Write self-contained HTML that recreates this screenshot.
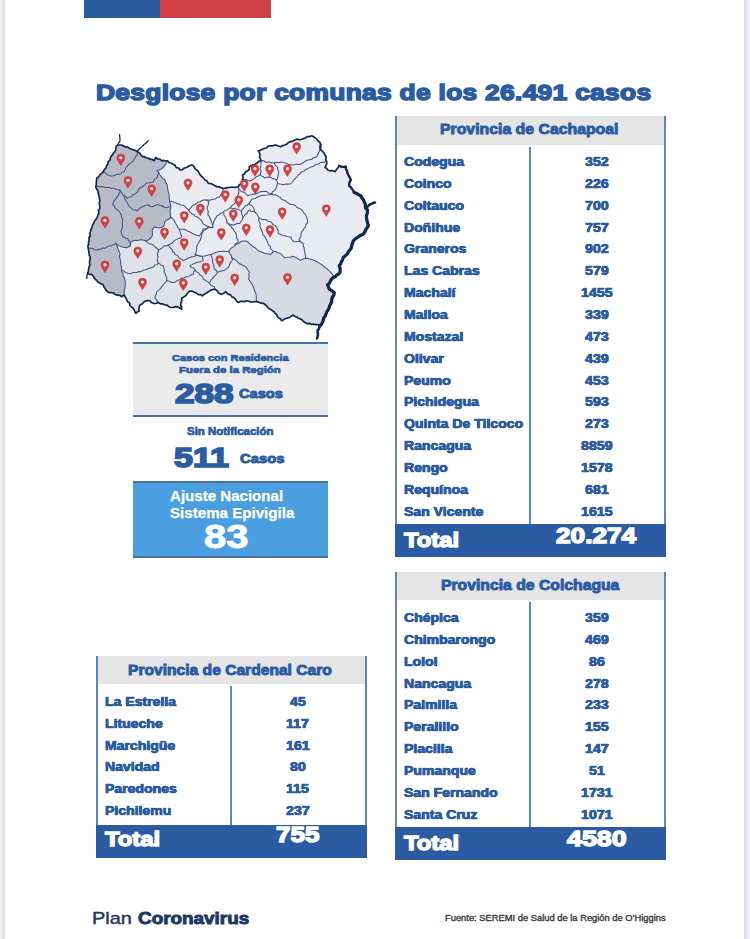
<!DOCTYPE html>
<html><head><meta charset="utf-8"><title>Desglose por comunas</title>
<style>
html,body{margin:0;padding:0;}
body{width:750px;height:939px;position:relative;overflow:hidden;background:#fff;font-family:"Liberation Sans",sans-serif;color:#2b5ca3;}
div{position:absolute;white-space:nowrap;}
.edgeL{left:0;top:0;width:6px;height:939px;background:linear-gradient(to right,#f2f2f7 0,#eeeef3 1.5px,#e4e4ea 3px,#dbdbe0 4.2px,#fff 5.4px);}
.edgeR{left:743px;top:0;width:7px;height:939px;background:linear-gradient(to right,#fff 0.5px,#dcdce2 1.4px,#e5e5eb 3px,#efeff4 5.5px,#f3f3f8 7px);}
.vl{background:#5d86ba;width:2px;}
.hl{background:#4a70a8;height:2px;}
</style></head><body>
<div class="edgeL"></div><div class="edgeR"></div>
<div style="left:84px;top:0;width:76px;height:18px;background:#2a5a9f"></div>
<div style="left:160px;top:0;width:111px;height:18px;background:#d14046"></div>
<svg width="320" height="220" viewBox="75 125 320 220" style="position:absolute;left:75px;top:125px;overflow:visible">
<defs><clipPath id="oc"><path d="M117.5 145.0 L119.5 145.0 L121.4 145.0 L123.3 145.8 L125.2 146.8 L127.5 146.9 L129.2 148.3 L131.4 149.2 L133.7 149.8 L135.8 150.8 L137.5 151.7 L139.6 152.9 L140.8 155.0 L142.5 156.7 L144.6 156.7 L146.3 157.9 L148.3 158.0 L150.0 159.2 L152.3 159.4 L154.2 160.8 L154.9 159.1 L155.8 157.5 L157.5 159.0 L160.0 159.2 L161.7 160.8 L163.6 160.4 L165.6 161.0 L167.5 160.8 L169.1 162.5 L171.3 163.2 L173.3 164.2 L175.1 165.5 L176.2 167.6 L178.8 168.0 L180.0 170.0 L182.4 169.7 L184.4 168.0 L186.7 167.5 L188.4 166.2 L190.3 165.3 L192.5 165.0 L194.1 166.5 L194.9 168.6 L196.7 170.0 L198.3 171.3 L199.1 173.3 L200.3 175.0 L201.7 176.5 L203.5 178.1 L204.9 179.9 L207.1 181.1 L208.3 183.3 L210.8 183.5 L212.9 184.6 L215.0 185.8 L216.8 186.7 L218.8 186.9 L220.7 187.4 L222.5 188.3 L225.0 188.2 L227.5 187.7 L230.0 187.5 L232.0 187.0 L234.2 187.5 L236.3 187.2 L238.3 186.7 L239.4 184.8 L241.2 183.4 L242.5 181.7 L242.5 179.5 L243.1 177.2 L242.5 175.0 L244.4 173.9 L245.6 172.0 L247.5 170.8 L249.2 169.5 L249.2 167.2 L250.8 165.8 L252.7 164.9 L254.9 164.5 L256.7 163.3 L258.5 161.6 L260.8 160.8 L260.5 158.9 L259.6 157.0 L260.0 155.0 L259.4 152.8 L258.3 150.8 L260.4 150.3 L262.3 149.2 L264.2 148.3 L266.4 148.0 L268.0 146.4 L270.0 145.8 L272.0 145.8 L273.9 145.4 L275.8 145.0 L278.3 146.0 L280.8 146.7 L282.6 145.6 L284.8 145.0 L286.8 144.1 L288.3 142.5 L290.5 141.6 L292.9 141.1 L295.0 140.0 L297.2 139.1 L299.5 139.8 L301.7 139.2 L303.5 138.6 L305.4 138.2 L306.7 136.7 L309.3 136.7 L311.7 135.8 L313.5 136.7 L315.1 137.9 L316.7 139.2 L318.2 141.0 L320.0 142.5 L321.0 144.9 L320.6 147.5 L320.8 150.0 L322.6 151.3 L324.0 153.0 L325.0 155.0 L326.2 157.1 L325.7 159.6 L326.7 161.7 L326.7 163.8 L325.9 165.7 L325.0 167.5 L326.8 168.5 L328.0 170.2 L330.0 170.8 L332.6 170.6 L335.0 171.7 L336.3 169.7 L337.9 167.8 L339.2 165.8 L341.3 166.6 L343.5 166.8 L345.8 166.7 L345.9 169.0 L347.2 171.0 L347.5 173.3 L348.7 175.5 L349.9 177.7 L350.8 180.0 L349.8 181.8 L349.2 183.7 L349.2 185.8 L350.8 187.2 L352.0 188.9 L353.2 190.6 L354.2 192.5 L356.5 193.3 L358.6 194.7 L360.8 195.8 L361.8 197.8 L363.3 199.6 L364.2 201.7 L365.3 203.8 L365.4 206.1 L365.8 208.3 L367.5 210.0 L367.5 212.1 L367.0 214.1 L366.4 216.2 L366.7 218.3 L367.0 220.8 L367.7 223.3 L368.3 225.8 L367.1 227.7 L365.9 229.6 L365.0 231.7 L363.7 233.7 L361.7 235.0 L359.7 235.8 L358.1 237.0 L356.4 238.1 L354.8 239.3 L353.3 240.8 L352.6 243.1 L351.8 245.4 L351.3 247.9 L350.0 250.0 L348.5 251.4 L347.7 253.3 L346.4 254.8 L344.9 256.2 L343.3 257.5 L342.6 259.8 L341.4 261.7 L340.7 264.0 L339.2 265.8 L340.1 268.0 L340.1 270.2 L340.0 272.5 L338.6 274.1 L336.7 275.1 L335.3 276.7 L333.3 277.5 L331.5 279.1 L330.3 281.2 L329.3 283.4 L327.5 285.0 L328.6 287.0 L329.2 289.2 L331.0 290.1 L332.6 291.3 L334.2 292.5 L334.0 294.9 L332.5 297.0 L331.8 299.2 L331.7 301.7 L330.7 303.7 L329.7 305.7 L329.1 307.9 L328.1 309.9 L326.7 311.7 L326.0 313.8 L325.3 316.0 L323.8 317.8 L323.3 320.0 L322.6 322.1 L321.6 324.1 L320.0 325.8 L317.9 324.6 L315.5 324.7 L313.3 324.2 L311.1 324.3 L309.2 323.3 L306.9 323.6 L305.0 322.5 L303.3 321.4 L302.0 319.8 L300.3 318.9 L298.3 318.3 L296.8 317.0 L294.8 316.4 L293.3 315.0 L291.2 316.3 L289.1 317.6 L286.7 318.3 L284.9 318.8 L283.3 319.9 L281.7 320.8 L280.7 319.0 L278.8 318.0 L277.4 316.6 L276.7 314.5 L275.0 313.3 L273.8 311.5 L272.0 310.4 L270.2 309.2 L268.3 308.3 L267.0 306.3 L265.2 304.7 L263.3 303.3 L261.0 303.2 L258.9 302.2 L256.7 301.7 L254.7 301.7 L252.6 302.0 L250.6 301.9 L248.7 301.3 L246.7 300.8 L244.7 301.6 L242.4 301.4 L240.3 301.4 L238.3 302.5 L236.6 301.1 L235.4 299.1 L233.8 297.6 L231.7 296.7 L230.7 294.9 L228.6 294.4 L227.0 293.3 L225.8 291.7 L224.3 292.9 L222.7 293.8 L220.8 294.2 L218.6 292.9 L217.1 290.7 L215.0 289.2 L212.6 289.5 L210.4 290.4 L208.3 291.7 L206.4 293.1 L204.3 294.2 L202.5 295.8 L200.7 294.6 L198.4 294.7 L196.7 293.3 L194.5 292.3 L192.4 291.2 L190.0 291.0 L188.4 292.2 L187.1 293.8 L186.0 295.5 L183.9 296.9 L181.7 298.3 L181.7 300.9 L180.8 303.3 L180.7 305.3 L181.6 307.2 L181.7 309.2 L179.9 308.0 L178.0 306.9 L175.8 306.7 L173.3 307.3 L170.8 307.5 L168.8 306.8 L167.2 305.2 L165.0 305.0 L162.9 303.9 L160.4 303.8 L158.3 302.5 L155.9 303.5 L153.3 303.3 L151.3 302.5 L150.0 300.8 L148.0 300.5 L146.1 300.9 L144.2 301.7 L142.4 303.8 L140.0 305.0 L139.2 306.9 L138.8 308.8 L139.2 310.8 L137.4 311.9 L135.8 313.3 L134.8 311.7 L134.2 309.9 L133.3 308.3 L131.4 307.0 L129.9 305.5 L129.5 302.9 L127.5 301.7 L126.6 299.4 L125.3 297.2 L124.2 295.0 L121.7 296.7 L119.7 295.3 L117.2 295.1 L115.0 294.2 L113.3 293.0 L111.4 292.5 L109.2 292.7 L107.5 291.7 L106.1 290.2 L105.1 288.5 L104.0 286.9 L103.3 285.0 L101.4 283.8 L99.3 283.1 L97.5 281.7 L96.0 279.8 L94.2 278.1 L93.3 275.8 L91.6 274.4 L89.3 274.3 L87.5 273.3 L88.3 271.7 L88.6 269.4 L89.1 267.0 L89.9 264.8 L89.5 262.3 L90.0 260.0 L90.3 257.6 L89.3 255.3 L89.0 253.0 L88.7 250.6 L88.3 248.3 L87.8 246.1 L88.7 244.1 L88.5 242.0 L89.2 240.0 L88.8 237.9 L90.3 236.1 L89.7 233.9 L90.4 232.0 L90.8 230.0 L92.0 227.6 L92.5 225.0 L93.8 223.0 L94.8 220.7 L96.3 218.8 L97.5 216.7 L98.1 214.7 L98.9 212.8 L98.4 210.6 L99.6 208.7 L100.0 206.7 L99.5 204.7 L99.3 202.7 L99.9 200.7 L99.4 198.7 L99.2 196.7 L98.6 194.7 L98.2 192.6 L97.7 190.5 L96.4 188.7 L95.8 186.7 L96.2 184.6 L96.3 182.5 L96.5 180.4 L96.7 178.3 L98.6 176.9 L99.9 174.9 L101.7 173.4 L103.3 171.7 L104.3 169.7 L105.9 168.0 L106.6 165.8 L107.8 164.0 L108.3 161.7 L110.1 159.9 L110.5 157.3 L112.1 155.4 L113.3 153.3 L114.9 151.5 L115.9 149.4 L116.0 146.8Z"/></clipPath>
</defs>
<path d="M117.5 145.0 L119.5 145.0 L121.4 145.0 L123.3 145.8 L125.2 146.8 L127.5 146.9 L129.2 148.3 L131.4 149.2 L133.7 149.8 L135.8 150.8 L137.5 151.7 L139.6 152.9 L140.8 155.0 L142.5 156.7 L144.6 156.7 L146.3 157.9 L148.3 158.0 L150.0 159.2 L152.3 159.4 L154.2 160.8 L154.9 159.1 L155.8 157.5 L157.5 159.0 L160.0 159.2 L161.7 160.8 L163.6 160.4 L165.6 161.0 L167.5 160.8 L169.1 162.5 L171.3 163.2 L173.3 164.2 L175.1 165.5 L176.2 167.6 L178.8 168.0 L180.0 170.0 L182.4 169.7 L184.4 168.0 L186.7 167.5 L188.4 166.2 L190.3 165.3 L192.5 165.0 L194.1 166.5 L194.9 168.6 L196.7 170.0 L198.3 171.3 L199.1 173.3 L200.3 175.0 L201.7 176.5 L203.5 178.1 L204.9 179.9 L207.1 181.1 L208.3 183.3 L210.8 183.5 L212.9 184.6 L215.0 185.8 L216.8 186.7 L218.8 186.9 L220.7 187.4 L222.5 188.3 L225.0 188.2 L227.5 187.7 L230.0 187.5 L232.0 187.0 L234.2 187.5 L236.3 187.2 L238.3 186.7 L239.4 184.8 L241.2 183.4 L242.5 181.7 L242.5 179.5 L243.1 177.2 L242.5 175.0 L244.4 173.9 L245.6 172.0 L247.5 170.8 L249.2 169.5 L249.2 167.2 L250.8 165.8 L252.7 164.9 L254.9 164.5 L256.7 163.3 L258.5 161.6 L260.8 160.8 L260.5 158.9 L259.6 157.0 L260.0 155.0 L259.4 152.8 L258.3 150.8 L260.4 150.3 L262.3 149.2 L264.2 148.3 L266.4 148.0 L268.0 146.4 L270.0 145.8 L272.0 145.8 L273.9 145.4 L275.8 145.0 L278.3 146.0 L280.8 146.7 L282.6 145.6 L284.8 145.0 L286.8 144.1 L288.3 142.5 L290.5 141.6 L292.9 141.1 L295.0 140.0 L297.2 139.1 L299.5 139.8 L301.7 139.2 L303.5 138.6 L305.4 138.2 L306.7 136.7 L309.3 136.7 L311.7 135.8 L313.5 136.7 L315.1 137.9 L316.7 139.2 L318.2 141.0 L320.0 142.5 L321.0 144.9 L320.6 147.5 L320.8 150.0 L322.6 151.3 L324.0 153.0 L325.0 155.0 L326.2 157.1 L325.7 159.6 L326.7 161.7 L326.7 163.8 L325.9 165.7 L325.0 167.5 L326.8 168.5 L328.0 170.2 L330.0 170.8 L332.6 170.6 L335.0 171.7 L336.3 169.7 L337.9 167.8 L339.2 165.8 L341.3 166.6 L343.5 166.8 L345.8 166.7 L345.9 169.0 L347.2 171.0 L347.5 173.3 L348.7 175.5 L349.9 177.7 L350.8 180.0 L349.8 181.8 L349.2 183.7 L349.2 185.8 L350.8 187.2 L352.0 188.9 L353.2 190.6 L354.2 192.5 L356.5 193.3 L358.6 194.7 L360.8 195.8 L361.8 197.8 L363.3 199.6 L364.2 201.7 L365.3 203.8 L365.4 206.1 L365.8 208.3 L367.5 210.0 L367.5 212.1 L367.0 214.1 L366.4 216.2 L366.7 218.3 L367.0 220.8 L367.7 223.3 L368.3 225.8 L367.1 227.7 L365.9 229.6 L365.0 231.7 L363.7 233.7 L361.7 235.0 L359.7 235.8 L358.1 237.0 L356.4 238.1 L354.8 239.3 L353.3 240.8 L352.6 243.1 L351.8 245.4 L351.3 247.9 L350.0 250.0 L348.5 251.4 L347.7 253.3 L346.4 254.8 L344.9 256.2 L343.3 257.5 L342.6 259.8 L341.4 261.7 L340.7 264.0 L339.2 265.8 L340.1 268.0 L340.1 270.2 L340.0 272.5 L338.6 274.1 L336.7 275.1 L335.3 276.7 L333.3 277.5 L331.5 279.1 L330.3 281.2 L329.3 283.4 L327.5 285.0 L328.6 287.0 L329.2 289.2 L331.0 290.1 L332.6 291.3 L334.2 292.5 L334.0 294.9 L332.5 297.0 L331.8 299.2 L331.7 301.7 L330.7 303.7 L329.7 305.7 L329.1 307.9 L328.1 309.9 L326.7 311.7 L326.0 313.8 L325.3 316.0 L323.8 317.8 L323.3 320.0 L322.6 322.1 L321.6 324.1 L320.0 325.8 L317.9 324.6 L315.5 324.7 L313.3 324.2 L311.1 324.3 L309.2 323.3 L306.9 323.6 L305.0 322.5 L303.3 321.4 L302.0 319.8 L300.3 318.9 L298.3 318.3 L296.8 317.0 L294.8 316.4 L293.3 315.0 L291.2 316.3 L289.1 317.6 L286.7 318.3 L284.9 318.8 L283.3 319.9 L281.7 320.8 L280.7 319.0 L278.8 318.0 L277.4 316.6 L276.7 314.5 L275.0 313.3 L273.8 311.5 L272.0 310.4 L270.2 309.2 L268.3 308.3 L267.0 306.3 L265.2 304.7 L263.3 303.3 L261.0 303.2 L258.9 302.2 L256.7 301.7 L254.7 301.7 L252.6 302.0 L250.6 301.9 L248.7 301.3 L246.7 300.8 L244.7 301.6 L242.4 301.4 L240.3 301.4 L238.3 302.5 L236.6 301.1 L235.4 299.1 L233.8 297.6 L231.7 296.7 L230.7 294.9 L228.6 294.4 L227.0 293.3 L225.8 291.7 L224.3 292.9 L222.7 293.8 L220.8 294.2 L218.6 292.9 L217.1 290.7 L215.0 289.2 L212.6 289.5 L210.4 290.4 L208.3 291.7 L206.4 293.1 L204.3 294.2 L202.5 295.8 L200.7 294.6 L198.4 294.7 L196.7 293.3 L194.5 292.3 L192.4 291.2 L190.0 291.0 L188.4 292.2 L187.1 293.8 L186.0 295.5 L183.9 296.9 L181.7 298.3 L181.7 300.9 L180.8 303.3 L180.7 305.3 L181.6 307.2 L181.7 309.2 L179.9 308.0 L178.0 306.9 L175.8 306.7 L173.3 307.3 L170.8 307.5 L168.8 306.8 L167.2 305.2 L165.0 305.0 L162.9 303.9 L160.4 303.8 L158.3 302.5 L155.9 303.5 L153.3 303.3 L151.3 302.5 L150.0 300.8 L148.0 300.5 L146.1 300.9 L144.2 301.7 L142.4 303.8 L140.0 305.0 L139.2 306.9 L138.8 308.8 L139.2 310.8 L137.4 311.9 L135.8 313.3 L134.8 311.7 L134.2 309.9 L133.3 308.3 L131.4 307.0 L129.9 305.5 L129.5 302.9 L127.5 301.7 L126.6 299.4 L125.3 297.2 L124.2 295.0 L121.7 296.7 L119.7 295.3 L117.2 295.1 L115.0 294.2 L113.3 293.0 L111.4 292.5 L109.2 292.7 L107.5 291.7 L106.1 290.2 L105.1 288.5 L104.0 286.9 L103.3 285.0 L101.4 283.8 L99.3 283.1 L97.5 281.7 L96.0 279.8 L94.2 278.1 L93.3 275.8 L91.6 274.4 L89.3 274.3 L87.5 273.3 L88.3 271.7 L88.6 269.4 L89.1 267.0 L89.9 264.8 L89.5 262.3 L90.0 260.0 L90.3 257.6 L89.3 255.3 L89.0 253.0 L88.7 250.6 L88.3 248.3 L87.8 246.1 L88.7 244.1 L88.5 242.0 L89.2 240.0 L88.8 237.9 L90.3 236.1 L89.7 233.9 L90.4 232.0 L90.8 230.0 L92.0 227.6 L92.5 225.0 L93.8 223.0 L94.8 220.7 L96.3 218.8 L97.5 216.7 L98.1 214.7 L98.9 212.8 L98.4 210.6 L99.6 208.7 L100.0 206.7 L99.5 204.7 L99.3 202.7 L99.9 200.7 L99.4 198.7 L99.2 196.7 L98.6 194.7 L98.2 192.6 L97.7 190.5 L96.4 188.7 L95.8 186.7 L96.2 184.6 L96.3 182.5 L96.5 180.4 L96.7 178.3 L98.6 176.9 L99.9 174.9 L101.7 173.4 L103.3 171.7 L104.3 169.7 L105.9 168.0 L106.6 165.8 L107.8 164.0 L108.3 161.7 L110.1 159.9 L110.5 157.3 L112.1 155.4 L113.3 153.3 L114.9 151.5 L115.9 149.4 L116.0 146.8Z" fill="#e9ebf0"/>
<g clip-path="url(#oc)">
<path d="M170.4 218.0 L171.5 217.3 L174.0 220.0 L175.2 222.7 L176.7 225.3 L177.7 227.5 L179.3 229.3 L182.0 229.2 L184.7 229.3 L199.3 236.0 L205.2 228.8 L203.0 229.0 L202.8 231.7 L201.7 234.3 L201.4 237.0 L200.5 239.2 L199.6 241.3 L198.3 243.3 L196.6 246.6 L196.7 250.0 L196.2 252.4 L195.0 254.6 L195.0 254.6 L197.6 255.4 L200.3 256.0 L203.0 256.2 L205.7 255.8 L208.3 255.0 L211.0 254.6 L213.6 253.3 L216.3 252.3 L219.0 251.4 L221.4 251.4 L223.8 251.1 L226.2 251.4 L228.6 251.4 L228.6 251.4 L230.0 249.6 L231.6 248.0 L233.7 246.9 L235.0 245.0 L237.0 244.1 L239.1 243.2 L240.8 241.6 L243.0 241.0 L245.5 241.0 L247.8 241.8 L249.3 243.5 L251.1 244.9 L252.6 246.6 L255.2 247.8 L257.4 249.8 L259.3 251.3 L261.6 252.1 L263.8 253.0 L265.9 253.8 L268.2 253.7 L270.2 254.6 L272.1 253.3 L273.4 251.4 L275.6 251.5 L277.6 252.8 L279.8 253.0 L281.4 254.6 L283.1 256.1 L284.6 257.8 L287.3 257.3 L290.0 257.2 L292.6 256.2 L294.7 257.0 L296.8 257.9 L298.6 259.2 L300.6 260.2 L303.1 259.0 L305.8 258.3 L308.2 258.5 L310.5 259.2 L312.8 259.7 L315.0 260.8 L317.2 261.8 L319.2 263.1 L321.3 264.4 L323.3 265.8 L324.8 267.5 L326.8 268.6 L328.3 270.2 L330.0 271.7 L331.9 273.5 L333.3 275.8 L400.0 276.0 L400.0 345.0 L100.0 345.0 L100.0 218.0Z" fill="#dfe2e9"/>
<path d="M256.6 301.7 L256.3 298.8 L256.2 295.9 L255.8 293.0 L254.4 290.5 L253.7 287.7 L252.6 285.0 L251.3 282.8 L249.7 280.9 L248.6 278.6 L249.3 276.5 L248.7 274.3 L249.4 272.2 L247.8 269.8 L246.2 267.4 L244.4 265.9 L242.2 265.0 L240.1 264.0 L238.2 262.6 L236.4 260.6 L234.1 259.2 L231.8 257.8 L231.2 255.5 L229.8 253.5 L228.6 251.4 L230.0 249.6 L231.6 248.0 L233.7 246.9 L235.0 245.0 L237.0 244.1 L239.1 243.2 L240.8 241.6 L243.0 241.0 L245.5 241.0 L247.8 241.8 L249.3 243.5 L251.1 244.9 L252.6 246.6 L255.2 247.8 L257.4 249.8 L259.3 251.3 L261.6 252.1 L263.8 253.0 L265.9 253.8 L268.2 253.7 L270.2 254.6 L272.1 253.3 L273.4 251.4 L275.6 251.5 L277.6 252.8 L279.8 253.0 L281.4 254.6 L283.1 256.1 L284.6 257.8 L287.3 257.3 L290.0 257.2 L292.6 256.2 L294.7 257.0 L296.8 257.9 L298.6 259.2 L300.6 260.2 L303.1 259.0 L305.8 258.3 L308.2 258.5 L310.5 259.2 L312.8 259.7 L315.0 260.8 L317.2 261.8 L319.2 263.1 L321.3 264.4 L323.3 265.8 L324.8 267.5 L326.8 268.6 L328.3 270.2 L330.0 271.7 L331.9 273.5 L333.3 275.8 L400.0 276.0 L400.0 345.0 L256.0 345.0Z" fill="#d7dae2"/>
<path d="M167.5 160.8 L166.4 163.2 L164.7 165.3 L163.3 167.5 L161.3 169.0 L159.0 169.9 L156.7 170.8 L158.7 172.6 L160.0 175.0 L161.5 176.8 L163.1 178.5 L165.0 180.0 L165.5 182.4 L167.0 184.3 L167.5 186.7 L167.7 189.2 L168.2 191.7 L169.1 194.1 L169.2 196.7 L169.4 199.5 L169.8 202.3 L170.8 205.0 L170.9 207.8 L170.1 210.5 L170.4 213.3 L170.5 215.7 L170.4 218.0 L168.6 219.2 L166.5 220.1 L165.0 221.7 L164.2 223.7 L164.0 225.9 L162.0 227.3 L159.7 228.1 L157.0 227.6 L154.4 227.0 L153.3 228.6 L152.3 230.2 L152.5 232.8 L152.3 235.5 L151.5 237.3 L150.1 238.7 L148.1 240.0 L145.9 240.9 L143.2 240.1 L140.5 239.8 L137.9 240.5 L135.2 240.3 L133.0 241.0 L130.9 241.9 L130.5 244.1 L129.9 246.2 L126.7 247.8 L123.5 247.3 L120.6 246.6 L118.1 245.1 L115.8 243.3 L116.8 245.3 L117.4 247.5 L118.3 249.6 L119.2 251.7 L120.0 254.1 L119.5 256.8 L120.1 259.2 L120.8 261.7 L120.6 264.2 L121.6 266.7 L121.7 269.2 L121.7 271.7 L123.0 273.6 L123.1 276.0 L124.4 277.8 L125.0 280.0 L125.4 282.8 L125.1 285.5 L125.0 288.3 L124.3 290.5 L124.1 292.7 L124.2 295.0 L124.0 345.0 L70.0 345.0 L70.0 125.0 L167.5 125.0Z" fill="#b8bac6"/>
</g>
<g fill="none" stroke="#43567f" stroke-width="1.05" stroke-linejoin="round" stroke-linecap="round">
<path d="M103.3 171.7 L105.2 172.7 L106.7 174.2 L108.7 175.4 L110.9 175.9 L113.3 175.8 L115.0 175.3 L116.5 174.4 L118.3 174.2 L120.5 174.0 L122.1 172.3 L124.2 171.7 L125.1 169.9 L125.7 168.0 L127.1 166.6 L128.3 165.0 L129.9 163.6 L131.6 162.2 L133.3 160.8 L134.0 159.1 L135.4 157.9 L135.9 156.0 L137.5 155.0 L137.2 153.3 L137.5 151.7"/>
<path d="M95.8 186.7 L97.7 186.3 L99.5 186.9 L101.4 186.5 L103.2 186.7 L105.0 187.5 L107.1 187.4 L109.2 187.5 L111.2 188.2 L113.3 188.3 L115.5 188.9 L117.7 189.8 L120.0 190.0 L120.9 191.6 L121.9 193.1 L122.7 194.7 L124.2 195.8 L125.9 196.9 L127.5 198.3 L129.3 197.1 L131.6 196.8 L132.9 194.8 L135.0 194.2 L136.7 192.7 L138.1 191.0 L138.9 188.8 L140.8 187.5 L142.8 186.5 L144.5 185.1 L145.8 183.3 L147.7 183.1 L149.6 182.8 L151.5 182.5 L153.3 181.7 L154.3 179.7 L156.1 178.4 L157.5 176.7 L157.8 175.0 L158.5 173.4 L158.3 171.7"/>
<path d="M124.2 195.8 L124.5 197.1 L124.9 198.9 L125.7 200.5 L126.8 202.0 L127.7 203.5 L128.7 205.6 L130.4 207.3 L132.0 208.9 L133.7 209.9 L135.7 209.9 L137.3 211.0 L138.7 209.1 L140.6 207.7 L142.7 206.7 L144.7 205.7 L146.9 205.1 L148.9 205.1 L150.4 206.6 L152.3 206.7 L154.1 206.1 L155.9 205.5 L157.6 204.6 L159.7 205.3 L161.9 205.7 L163.9 207.0 L166.1 207.8 L168.3 207.2 L170.6 206.7"/>
<path d="M120.0 190.0 L120.2 192.0 L118.6 193.6 L118.5 195.5 L117.1 196.8 L116.2 198.4 L115.0 199.9 L113.9 201.4 L113.1 202.9 L112.8 204.6 L114.4 205.7 L114.7 207.7 L116.0 208.9 L117.7 210.1 L119.3 211.3 L120.3 213.1 L121.3 214.8 L121.4 216.8 L122.4 218.5 L122.9 220.3 L122.3 222.2 L122.1 224.1 L122.9 225.9 L122.2 227.7 L121.7 229.6 L120.8 231.3 L121.5 233.1 L122.0 234.9 L122.9 236.6 L124.4 237.6 L126.0 238.2 L127.7 238.7 L128.6 240.4 L129.9 241.9 L130.5 244.1 L129.9 246.2"/>
<path d="M89.2 248.3 L91.2 248.2 L93.0 248.8 L94.7 249.9 L96.7 250.0 L98.7 249.3 L100.9 249.2 L102.8 248.1 L105.0 248.3 L106.7 246.9 L108.7 246.3 L110.8 245.8 L112.6 245.2 L114.3 244.4 L115.8 243.3"/>
<path d="M145.9 240.9 L148.0 243.0 L149.7 243.9 L151.6 244.1 L153.3 245.0 L154.5 246.3 L155.8 247.5 L157.1 248.7 L158.3 250.0 L158.6 251.8 L157.2 253.2 L157.5 255.0 L158.1 257.0 L157.2 259.2 L157.5 261.3 L158.3 263.3"/>
<path d="M121.7 270.8 L123.6 270.8 L125.0 272.0 L126.5 273.1 L128.3 273.3 L130.5 273.8 L132.5 272.8 L134.6 272.4 L136.7 272.5 L138.7 271.5 L141.0 271.8 L142.8 270.2 L145.0 270.0 L146.7 269.5 L148.2 268.3 L150.0 268.2 L151.7 267.5 L153.7 267.0 L154.7 265.0 L156.9 264.7 L158.3 263.3"/>
<path d="M158.3 263.3 L160.0 264.1 L161.4 265.5 L163.3 265.8 L163.4 267.7 L164.5 269.5 L164.0 271.5 L165.0 273.3 L165.6 275.5 L166.8 277.6 L166.7 280.0 L166.0 282.1 L164.2 283.4 L163.0 285.1 L161.7 286.7 L160.6 288.1 L159.6 289.6 L158.1 290.6 L156.7 291.7 L156.4 294.0 L155.1 296.0 L155.0 298.3 L156.8 300.0 L157.5 302.5"/>
<path d="M158.3 250.0 L160.2 249.2 L161.9 248.2 L163.3 246.7 L164.8 245.6 L166.8 246.1 L168.3 245.0 L170.1 244.1 L171.9 243.3 L173.3 241.7 L174.8 240.4 L176.6 239.5 L178.3 238.6 L180.4 238.3 L181.7 236.7 L181.3 235.0 L180.4 233.4 L180.0 231.7 L179.3 229.3"/>
<path d="M168.3 245.0 L169.4 246.6 L170.7 248.2 L172.0 249.7 L172.5 251.7 L174.3 252.5 L175.1 254.6 L177.0 255.2 L178.3 256.7 L179.6 258.5 L181.9 259.2 L183.3 260.8 L184.8 259.7 L186.7 259.2 L188.1 257.9 L190.0 257.5 L191.6 256.7 L193.6 256.8 L195.2 256.1 L196.7 255.0"/>
<path d="M166.7 280.0 L168.2 281.0 L169.9 281.4 L171.4 282.4 L173.3 282.5 L175.2 282.2 L176.7 280.9 L178.3 280.0 L180.1 279.6 L181.4 278.1 L183.5 278.3 L185.0 277.3 L186.7 276.7 L188.5 276.4 L190.1 275.6 L191.5 274.5 L193.3 274.2 L193.6 271.9 L195.0 270.0 L193.7 268.1 L191.3 267.6 L190.0 265.8 L191.6 264.9 L193.2 263.9 L195.0 263.3 L197.0 262.2 L199.3 262.0 L201.5 261.4 L203.3 260.0 L202.6 258.4 L202.5 256.7 L200.6 255.9 L198.6 255.8 L196.7 255.0"/>
<path d="M195.0 270.0 L196.2 271.3 L197.6 272.4 L199.1 273.4 L200.0 275.0 L201.6 275.9 L202.8 277.2 L203.3 279.2 L205.0 280.0 L206.5 281.1 L208.2 282.0 L209.4 283.4 L210.7 284.9 L212.2 286.1 L214.2 286.6 L215.0 289.2"/>
<path d="M211.0 254.6 L211.5 256.6 L212.3 258.5 L212.6 260.5 L212.6 262.6 L213.7 264.6 L213.9 266.8 L214.2 269.0 L216.2 270.2 L217.4 272.2 L216.5 274.0 L215.3 275.6 L213.7 276.9 L212.6 278.6 L211.1 279.9 L210.2 281.6 L209.4 283.4"/>
<path d="M217.4 272.2 L219.5 271.5 L221.6 271.0 L223.8 270.6 L225.4 269.6 L226.9 268.3 L228.6 267.4 L229.2 265.7 L229.7 263.9 L230.7 262.5 L231.8 261.0 L232.5 259.4 L231.8 257.8"/>
<path d="M170.0 201.3 L172.4 201.5 L174.5 202.6 L176.7 203.3 L178.8 204.1 L181.0 205.1 L183.3 205.3 L184.9 206.4 L186.2 207.8 L187.6 209.1 L188.7 210.7 L189.9 208.8 L191.3 207.1 L192.7 205.3 L194.8 204.7 L196.5 203.5 L198.0 202.0 L200.1 202.0 L201.8 200.4 L203.8 199.9 L206.0 200.0 L208.0 200.1 L210.0 200.2 L212.0 199.4 L214.0 199.3 L215.8 198.7 L217.3 197.3 L219.3 197.3 L220.5 195.2 L222.0 193.3 L223.1 191.1 L223.0 188.7"/>
<path d="M188.7 210.7 L190.2 212.4 L191.9 213.8 L194.0 214.7 L195.4 216.6 L197.7 217.1 L199.3 218.7 L201.1 220.1 L202.4 221.9 L203.3 224.0 L205.1 224.9 L206.8 226.0 L208.7 226.7 L210.6 227.6 L212.7 227.3 L212.5 225.4 L211.9 223.6 L211.6 221.7 L210.7 220.0 L210.0 218.3 L209.4 216.6 L208.1 215.2 L208.0 213.3 L208.2 211.1 L207.2 208.9 L207.3 206.7 L208.3 205.0 L208.4 203.2 L208.7 201.3 L206.0 200.0"/>
<path d="M212.7 227.3 L212.9 225.2 L213.1 223.2 L214.0 221.3 L214.6 219.4 L216.0 217.9 L216.7 216.0 L218.8 215.1 L220.4 213.3 L222.7 212.7 L224.2 211.0 L226.4 210.4 L228.2 209.3 L230.0 208.0 L231.2 206.6 L232.4 205.1 L234.1 204.1 L235.3 202.7 L235.3 200.5 L236.4 198.6 L237.3 196.7 L238.0 194.7 L238.9 192.8 L238.7 190.7 L238.7 188.7 L238.3 186.7"/>
<path d="M223.8 213.0 L223.9 215.1 L225.1 216.8 L226.1 218.6 L226.7 220.6 L227.0 222.6 L228.9 224.0 L231.2 224.5 L233.4 225.0 L235.5 224.2 L237.5 223.3 L239.8 223.4 L240.9 221.5 L242.1 219.8 L243.0 217.8 L242.4 215.7 L241.6 213.6 L241.4 211.4 L239.9 210.4 L238.5 209.3 L236.4 209.3 L235.0 208.2 L233.3 208.8 L231.7 208.3 L230.0 208.0"/>
<path d="M227.0 222.6 L228.4 223.8 L229.4 225.3 L231.1 226.1 L231.8 228.0 L233.4 229.0 L233.9 230.7 L235.0 232.2 L236.2 233.6 L236.6 235.4 L236.5 237.7 L237.9 239.6 L238.2 241.8 L236.3 243.1 L235.0 245.0"/>
<path d="M243.0 217.8 L244.0 216.0 L245.3 214.4 L247.1 213.2 L247.9 211.2 L249.4 209.8 L250.7 211.2 L252.6 211.4 L254.4 211.8 L255.8 213.0 L257.2 214.4 L258.0 216.1 L259.0 217.8 L260.5 218.6 L262.0 219.5 L263.8 219.4 L266.0 219.7 L267.9 220.9 L269.9 221.4 L271.8 222.6 L272.9 224.7 L275.4 225.4 L276.6 227.4 L277.7 229.4 L278.3 231.5 L278.2 233.8 L280.4 234.2 L282.3 235.4 L284.6 235.4 L286.6 236.5 L288.8 236.8 L291.0 237.0 L291.5 239.0 L292.6 240.5 L294.2 241.8 L296.3 241.6 L298.5 241.4 L300.6 241.8"/>
<path d="M259.0 217.8 L258.6 219.9 L259.2 221.9 L260.4 223.9 L260.0 226.0 L260.4 227.9 L261.4 229.5 L262.0 231.3 L262.6 233.1 L263.0 235.0 L264.4 236.4 L265.6 237.8 L266.3 239.6 L267.2 241.3 L268.0 243.0 L268.4 245.0 L270.4 246.1 L270.3 248.4 L271.8 249.8 L273.4 251.4"/>
<path d="M271.7 194.0 L269.5 194.8 L267.3 195.1 L265.0 195.3 L262.7 195.3 L260.4 195.8 L258.3 196.7 L256.7 197.4 L255.2 198.6 L253.4 198.7 L251.7 199.3 L250.5 201.4 L249.0 203.3 L249.9 205.0 L252.0 205.7 L253.0 207.3 L254.1 209.1 L254.4 211.3 L255.8 213.0"/>
<path d="M249.0 203.3 L247.4 205.2 L245.0 206.0 L243.9 207.9 L242.2 209.4 L241.4 211.4"/>
<path d="M271.7 194.0 L273.2 195.0 L275.2 194.8 L276.9 195.4 L278.3 196.7 L280.4 197.3 L281.6 199.4 L283.7 200.0 L285.6 200.8 L287.1 202.5 L289.0 203.3 L290.5 204.5 L292.4 204.4 L294.1 205.0 L295.7 206.0 L297.1 207.6 L299.1 208.3 L301.0 209.3 L302.6 210.7 L303.4 212.6 L305.0 214.0 L306.1 216.1 L307.0 218.2 L307.5 220.5 L307.5 222.9 L305.8 224.7 L305.5 227.0 L303.9 228.4 L303.1 230.4 L301.6 231.9 L301.0 234.0 L301.0 236.2 L300.0 238.1 L299.0 240.0 L300.5 241.1 L301.5 242.7 L303.3 243.3 L303.0 245.6 L304.1 247.7 L304.2 250.0 L304.9 252.0 L305.1 254.1 L305.4 256.2 L305.8 258.3"/>
<path d="M242.3 178.7 L244.1 179.8 L246.3 179.4 L248.0 180.8 L250.0 181.0 L251.7 180.3 L253.3 179.4 L254.7 178.3 L256.0 177.0 L258.2 176.0 L260.3 174.7"/>
<path d="M260.8 160.8 L261.0 162.8 L260.9 164.8 L260.8 166.8 L260.1 168.7 L261.0 170.7 L260.8 172.7 L260.3 174.7 L261.4 176.1 L263.2 176.6 L264.3 178.0 L266.2 177.2 L268.2 176.9 L270.3 177.3 L272.3 178.3 L274.4 178.9 L276.3 180.0 L277.6 178.2 L278.1 176.2 L278.3 174.0 L278.8 171.7 L277.6 169.6 L277.7 167.3 L276.1 166.1 L275.0 164.6 L274.3 162.7"/>
<path d="M276.3 180.0 L277.0 181.6 L277.7 183.3 L279.6 184.1 L281.7 184.2 L283.7 184.7 L285.9 184.1 L288.1 184.1 L290.3 184.0 L291.8 182.5 L293.2 181.0 L294.3 179.3 L295.9 178.0 L297.3 176.6 L298.3 174.7 L300.1 173.7 L301.3 171.9 L303.6 171.6 L305.0 170.0 L306.5 168.9 L308.4 168.4 L309.9 167.4 L311.7 166.7 L313.5 166.3 L314.8 165.0 L316.5 164.3 L318.3 164.0 L320.1 162.9 L322.0 162.0 L324.3 162.3 L326.0 161.0"/>
<path d="M277.7 183.3 L276.9 185.1 L276.6 187.0 L275.7 188.7 L274.5 190.6 L272.5 191.8 L271.7 194.0 L270.0 193.3 L268.2 193.0 L266.8 191.6 L265.0 191.3 L262.7 191.6 L260.4 191.6 L258.3 192.7 L256.3 193.9 L253.9 194.1 L251.7 194.7 L249.6 194.9 L247.7 196.0 L246.4 194.3 L244.9 192.9 L243.0 192.0 L241.2 191.4 L240.0 190.0 L238.7 188.7"/>
<path d="M260.8 160.8 L262.6 160.6 L264.3 161.0 L265.9 162.4 L267.7 162.0 L269.9 162.3 L272.0 163.1 L274.3 162.7 L276.5 162.3 L278.8 162.7 L281.0 162.0 L283.3 162.6 L285.6 163.0 L287.7 164.0 L289.9 164.6 L292.0 165.1 L294.3 164.7 L296.5 163.9 L298.8 164.4 L301.0 164.0 L303.1 162.8 L305.0 161.3 L307.1 160.3 L309.4 159.8 L311.7 159.3 L313.2 158.0 L315.1 157.2 L317.0 156.7 L317.4 154.9 L318.5 153.4 L319.2 151.8 L319.7 150.0 L319.5 148.0 L319.4 145.9 L320.3 144.0"/>
<path d="M167.5 160.8 L166.4 163.2 L164.7 165.3 L163.3 167.5 L161.3 169.0 L159.0 169.9 L156.7 170.8 L158.7 172.6 L160.0 175.0 L161.5 176.8 L163.1 178.5 L165.0 180.0 L165.5 182.4 L167.0 184.3 L167.5 186.7 L167.7 189.2 L168.2 191.7 L169.1 194.1 L169.2 196.7 L169.4 199.5 L169.8 202.3 L170.8 205.0 L170.9 207.8 L170.1 210.5 L170.4 213.3 L170.5 215.7 L170.4 218.0 L168.6 219.2 L166.5 220.1 L165.0 221.7 L164.2 223.7 L164.0 225.9 L162.0 227.3 L159.7 228.1 L157.0 227.6 L154.4 227.0 L153.3 228.6 L152.3 230.2 L152.5 232.8 L152.3 235.5 L151.5 237.3 L150.1 238.7 L148.1 240.0 L145.9 240.9 L143.2 240.1 L140.5 239.8 L137.9 240.5 L135.2 240.3 L133.0 241.0 L130.9 241.9 L130.5 244.1 L129.9 246.2 L126.7 247.8 L123.5 247.3 L120.6 246.6 L118.1 245.1 L115.8 243.3 L116.8 245.3 L117.4 247.5 L118.3 249.6 L119.2 251.7 L120.0 254.1 L119.5 256.8 L120.1 259.2 L120.8 261.7 L120.6 264.2 L121.6 266.7 L121.7 269.2 L121.7 271.7 L123.0 273.6 L123.1 276.0 L124.4 277.8 L125.0 280.0 L125.4 282.8 L125.1 285.5 L125.0 288.3 L124.3 290.5 L124.1 292.7 L124.2 295.0"/>
<path d="M228.6 251.4 L230.0 249.6 L231.6 248.0 L233.7 246.9 L235.0 245.0 L237.0 244.1 L239.1 243.2 L240.8 241.6 L243.0 241.0 L245.5 241.0 L247.8 241.8 L249.3 243.5 L251.1 244.9 L252.6 246.6 L255.2 247.8 L257.4 249.8 L259.3 251.3 L261.6 252.1 L263.8 253.0 L265.9 253.8 L268.2 253.7 L270.2 254.6 L272.1 253.3 L273.4 251.4 L275.6 251.5 L277.6 252.8 L279.8 253.0 L281.4 254.6 L283.1 256.1 L284.6 257.8 L287.3 257.3 L290.0 257.2 L292.6 256.2 L294.7 257.0 L296.8 257.9 L298.6 259.2 L300.6 260.2 L303.1 259.0 L305.8 258.3 L308.2 258.5 L310.5 259.2 L312.8 259.7 L315.0 260.8 L317.2 261.8 L319.2 263.1 L321.3 264.4 L323.3 265.8 L324.8 267.5 L326.8 268.6 L328.3 270.2 L330.0 271.7 L331.9 273.5 L333.3 275.8"/>
<path d="M228.6 251.4 L229.8 253.5 L231.2 255.5 L231.8 257.8 L234.1 259.2 L236.4 260.6 L238.2 262.6 L240.1 264.0 L242.2 265.0 L244.4 265.9 L246.2 267.4 L247.8 269.8 L249.4 272.2 L248.7 274.3 L249.3 276.5 L248.6 278.6 L249.7 280.9 L251.3 282.8 L252.6 285.0 L253.7 287.7 L254.4 290.5 L255.8 293.0 L256.2 295.9 L256.3 298.8 L256.6 301.7"/>
<path d="M170.4 218.0 L171.5 217.3 L174.0 220.0 L175.2 222.7 L176.7 225.3 L177.7 227.5 L179.3 229.3 L182.0 229.2 L184.7 229.3 L187.2 230.9 L190.0 232.0 L192.6 233.5 L195.3 234.7 L197.3 235.5 L199.3 236.0 L200.6 234.0 L202.0 232.0 L203.9 230.5 L206.0 229.3 L208.7 226.7"/>
<path d="M212.7 227.3 L209.4 227.4 L207.4 228.3 L205.2 228.8 L203.0 229.0 L202.8 231.7 L201.7 234.3 L201.4 237.0 L200.5 239.2 L199.6 241.3 L198.3 243.3 L196.6 246.6 L196.7 250.0 L196.2 252.4 L195.0 254.6"/>
<path d="M195.0 254.6 L197.6 255.4 L200.3 256.0 L203.0 256.2 L205.7 255.8 L208.3 255.0 L211.0 254.6 L213.6 253.3 L216.3 252.3 L219.0 251.4 L221.4 251.4 L223.8 251.1 L226.2 251.4 L228.6 251.4"/>
</g>
<g fill="none" stroke="#14284f" stroke-linejoin="round" stroke-linecap="round">
<path d="M117.5 145.0 L119.5 145.0 L121.4 145.0 L123.3 145.8 L125.2 146.8 L127.5 146.9 L129.2 148.3 L131.4 149.2 L133.7 149.8 L135.8 150.8 L137.5 151.7 L139.6 152.9 L140.8 155.0 L142.5 156.7 L144.6 156.7 L146.3 157.9 L148.3 158.0 L150.0 159.2 L152.3 159.4 L154.2 160.8 L154.9 159.1 L155.8 157.5 L157.5 159.0 L160.0 159.2 L161.7 160.8 L163.6 160.4 L165.6 161.0 L167.5 160.8 L169.1 162.5 L171.3 163.2 L173.3 164.2 L175.1 165.5 L176.2 167.6 L178.8 168.0 L180.0 170.0 L182.4 169.7 L184.4 168.0 L186.7 167.5 L188.4 166.2 L190.3 165.3 L192.5 165.0 L194.1 166.5 L194.9 168.6 L196.7 170.0 L198.3 171.3 L199.1 173.3 L200.3 175.0 L201.7 176.5 L203.5 178.1 L204.9 179.9 L207.1 181.1 L208.3 183.3 L210.8 183.5 L212.9 184.6 L215.0 185.8 L216.8 186.7 L218.8 186.9 L220.7 187.4 L222.5 188.3 L225.0 188.2 L227.5 187.7 L230.0 187.5 L232.0 187.0 L234.2 187.5 L236.3 187.2 L238.3 186.7 L239.4 184.8 L241.2 183.4 L242.5 181.7 L242.5 179.5 L243.1 177.2 L242.5 175.0 L244.4 173.9 L245.6 172.0 L247.5 170.8 L249.2 169.5 L249.2 167.2 L250.8 165.8 L252.7 164.9 L254.9 164.5 L256.7 163.3 L258.5 161.6 L260.8 160.8 L260.5 158.9 L259.6 157.0 L260.0 155.0 L259.4 152.8 L258.3 150.8 L260.4 150.3 L262.3 149.2 L264.2 148.3 L266.4 148.0 L268.0 146.4 L270.0 145.8 L272.0 145.8 L273.9 145.4 L275.8 145.0 L278.3 146.0 L280.8 146.7 L282.6 145.6 L284.8 145.0 L286.8 144.1 L288.3 142.5 L290.5 141.6 L292.9 141.1 L295.0 140.0 L297.2 139.1 L299.5 139.8 L301.7 139.2 L303.5 138.6 L305.4 138.2 L306.7 136.7 L309.3 136.7 L311.7 135.8 L313.5 136.7 L315.1 137.9 L316.7 139.2 L318.2 141.0 L320.0 142.5 L321.0 144.9 L320.6 147.5 L320.8 150.0 L322.6 151.3 L324.0 153.0 L325.0 155.0 L326.2 157.1 L325.7 159.6 L326.7 161.7 L326.7 163.8 L325.9 165.7 L325.0 167.5 L326.8 168.5 L328.0 170.2 L330.0 170.8 L332.6 170.6 L335.0 171.7 L336.3 169.7 L337.9 167.8 L339.2 165.8 L341.3 166.6 L343.5 166.8 L345.8 166.7 L345.9 169.0 L347.2 171.0 L347.5 173.3 L348.7 175.5 L349.9 177.7 L350.8 180.0 L349.8 181.8 L349.2 183.7 L349.2 185.8 L350.8 187.2 L352.0 188.9 L353.2 190.6 L354.2 192.5 L356.5 193.3 L358.6 194.7 L360.8 195.8 L361.8 197.8 L363.3 199.6 L364.2 201.7 L365.3 203.8 L365.4 206.1 L365.8 208.3 L367.5 210.0 L367.5 212.1 L367.0 214.1 L366.4 216.2 L366.7 218.3 L367.0 220.8 L367.7 223.3 L368.3 225.8 L367.1 227.7 L365.9 229.6 L365.0 231.7 L363.7 233.7 L361.7 235.0 L359.7 235.8 L358.1 237.0 L356.4 238.1 L354.8 239.3 L353.3 240.8 L352.6 243.1 L351.8 245.4 L351.3 247.9 L350.0 250.0 L348.5 251.4 L347.7 253.3 L346.4 254.8 L344.9 256.2 L343.3 257.5 L342.6 259.8 L341.4 261.7 L340.7 264.0 L339.2 265.8 L340.1 268.0 L340.1 270.2 L340.0 272.5 L338.6 274.1 L336.7 275.1 L335.3 276.7 L333.3 277.5 L331.5 279.1 L330.3 281.2 L329.3 283.4 L327.5 285.0 L328.6 287.0 L329.2 289.2 L331.0 290.1 L332.6 291.3 L334.2 292.5 L334.0 294.9 L332.5 297.0 L331.8 299.2 L331.7 301.7 L330.7 303.7 L329.7 305.7 L329.1 307.9 L328.1 309.9 L326.7 311.7 L326.0 313.8 L325.3 316.0 L323.8 317.8 L323.3 320.0 L322.6 322.1 L321.6 324.1 L320.0 325.8 L317.9 324.6 L315.5 324.7 L313.3 324.2 L311.1 324.3 L309.2 323.3 L306.9 323.6 L305.0 322.5 L303.3 321.4 L302.0 319.8 L300.3 318.9 L298.3 318.3 L296.8 317.0 L294.8 316.4 L293.3 315.0 L291.2 316.3 L289.1 317.6 L286.7 318.3 L284.9 318.8 L283.3 319.9 L281.7 320.8 L280.7 319.0 L278.8 318.0 L277.4 316.6 L276.7 314.5 L275.0 313.3 L273.8 311.5 L272.0 310.4 L270.2 309.2 L268.3 308.3 L267.0 306.3 L265.2 304.7 L263.3 303.3 L261.0 303.2 L258.9 302.2 L256.7 301.7 L254.7 301.7 L252.6 302.0 L250.6 301.9 L248.7 301.3 L246.7 300.8 L244.7 301.6 L242.4 301.4 L240.3 301.4 L238.3 302.5 L236.6 301.1 L235.4 299.1 L233.8 297.6 L231.7 296.7 L230.7 294.9 L228.6 294.4 L227.0 293.3 L225.8 291.7 L224.3 292.9 L222.7 293.8 L220.8 294.2 L218.6 292.9 L217.1 290.7 L215.0 289.2 L212.6 289.5 L210.4 290.4 L208.3 291.7 L206.4 293.1 L204.3 294.2 L202.5 295.8 L200.7 294.6 L198.4 294.7 L196.7 293.3 L194.5 292.3 L192.4 291.2 L190.0 291.0 L188.4 292.2 L187.1 293.8 L186.0 295.5 L183.9 296.9 L181.7 298.3 L181.7 300.9 L180.8 303.3 L180.7 305.3 L181.6 307.2 L181.7 309.2 L179.9 308.0 L178.0 306.9 L175.8 306.7 L173.3 307.3 L170.8 307.5 L168.8 306.8 L167.2 305.2 L165.0 305.0 L162.9 303.9 L160.4 303.8 L158.3 302.5 L155.9 303.5 L153.3 303.3 L151.3 302.5 L150.0 300.8 L148.0 300.5 L146.1 300.9 L144.2 301.7 L142.4 303.8 L140.0 305.0 L139.2 306.9 L138.8 308.8 L139.2 310.8 L137.4 311.9 L135.8 313.3 L134.8 311.7 L134.2 309.9 L133.3 308.3 L131.4 307.0 L129.9 305.5 L129.5 302.9 L127.5 301.7 L126.6 299.4 L125.3 297.2 L124.2 295.0 L121.7 296.7 L119.7 295.3 L117.2 295.1 L115.0 294.2 L113.3 293.0 L111.4 292.5 L109.2 292.7 L107.5 291.7 L106.1 290.2 L105.1 288.5 L104.0 286.9 L103.3 285.0 L101.4 283.8 L99.3 283.1 L97.5 281.7 L96.0 279.8 L94.2 278.1 L93.3 275.8 L91.6 274.4 L89.3 274.3 L87.5 273.3 L88.3 271.7 L88.6 269.4 L89.1 267.0 L89.9 264.8 L89.5 262.3 L90.0 260.0 L90.3 257.6 L89.3 255.3 L89.0 253.0 L88.7 250.6 L88.3 248.3 L87.8 246.1 L88.7 244.1 L88.5 242.0 L89.2 240.0 L88.8 237.9 L90.3 236.1 L89.7 233.9 L90.4 232.0 L90.8 230.0 L92.0 227.6 L92.5 225.0 L93.8 223.0 L94.8 220.7 L96.3 218.8 L97.5 216.7 L98.1 214.7 L98.9 212.8 L98.4 210.6 L99.6 208.7 L100.0 206.7 L99.5 204.7 L99.3 202.7 L99.9 200.7 L99.4 198.7 L99.2 196.7 L98.6 194.7 L98.2 192.6 L97.7 190.5 L96.4 188.7 L95.8 186.7 L96.2 184.6 L96.3 182.5 L96.5 180.4 L96.7 178.3 L98.6 176.9 L99.9 174.9 L101.7 173.4 L103.3 171.7 L104.3 169.7 L105.9 168.0 L106.6 165.8 L107.8 164.0 L108.3 161.7 L110.1 159.9 L110.5 157.3 L112.1 155.4 L113.3 153.3 L114.9 151.5 L115.9 149.4 L116.0 146.8Z" stroke-width="1.7"/>
<path d="M339.2 165.8 L341.3 166.6 L343.5 166.8 L345.8 166.7 L345.9 169.0 L347.2 171.0 L347.5 173.3 L348.7 175.5 L349.9 177.7 L350.8 180.0 L349.8 181.8 L349.2 183.7 L349.2 185.8 L350.8 187.2 L352.0 188.9 L353.2 190.6 L354.2 192.5 L356.5 193.3 L358.6 194.7 L360.8 195.8 L361.8 197.8 L363.3 199.6 L364.2 201.7 L365.3 203.8 L365.4 206.1 L365.8 208.3 L367.5 210.0 L367.5 212.1 L367.0 214.1 L366.4 216.2 L366.7 218.3 L367.0 220.8 L367.7 223.3 L368.3 225.8 L367.1 227.7 L365.9 229.6 L365.0 231.7 L363.7 233.7 L361.7 235.0 L359.7 235.8 L358.1 237.0 L356.4 238.1 L354.8 239.3 L353.3 240.8 L352.6 243.1 L351.8 245.4 L351.3 247.9 L350.0 250.0 L348.5 251.4 L347.7 253.3 L346.4 254.8 L344.9 256.2 L343.3 257.5 L342.6 259.8 L341.4 261.7 L340.7 264.0 L339.2 265.8 L340.1 268.0 L340.1 270.2 L340.0 272.5 L338.6 274.1 L336.7 275.1 L335.3 276.7 L333.3 277.5 L331.5 279.1 L330.3 281.2 L329.3 283.4 L327.5 285.0 L328.6 287.0 L329.2 289.2 L331.0 290.1 L332.6 291.3 L334.2 292.5 L334.0 294.9 L332.5 297.0 L331.8 299.2 L331.7 301.7 L330.7 303.7 L329.7 305.7 L329.1 307.9 L328.1 309.9 L326.7 311.7 L326.0 313.8 L325.3 316.0 L323.8 317.8 L323.3 320.0 L322.6 322.1 L321.6 324.1 L320.0 325.8" stroke-width="2.3"/>
<path d="M354.2 192.5 L356.5 193.3 L358.6 194.7 L360.8 195.8 L361.8 197.8 L363.3 199.6 L364.2 201.7 L365.3 203.8 L365.4 206.1 L365.8 208.3 L367.5 210.0 L367.5 212.1 L367.0 214.1 L366.4 216.2 L366.7 218.3 L367.0 220.8 L367.7 223.3 L368.3 225.8 L367.1 227.7 L365.9 229.6 L365.0 231.7 L363.7 233.7 L361.7 235.0 L359.7 235.8 L358.1 237.0 L356.4 238.1 L354.8 239.3 L353.3 240.8 L352.6 243.1 L351.8 245.4 L351.3 247.9 L350.0 250.0 L348.5 251.4 L347.7 253.3 L346.4 254.8 L344.9 256.2 L343.3 257.5 L342.6 259.8 L341.4 261.7 L340.7 264.0 L339.2 265.8 L340.1 268.0 L340.1 270.2 L340.0 272.5 L338.6 274.1 L336.7 275.1 L335.3 276.7 L333.3 277.5 L331.5 279.1 L330.3 281.2 L329.3 283.4 L327.5 285.0 L328.6 287.0 L329.2 289.2 L331.0 290.1 L332.6 291.3 L334.2 292.5 L334.0 294.9 L332.5 297.0 L331.8 299.2 L331.7 301.7 L330.7 303.7 L329.7 305.7 L329.1 307.9 L328.1 309.9 L326.7 311.7 L326.0 313.8 L325.3 316.0 L323.8 317.8 L323.3 320.0 L322.6 322.1 L321.6 324.1 L320.0 325.8" stroke-width="3.2"/>
<path d="M117.5 145.0 L118.7 142.8 L120.0 140.8 L119.9 137.7 L119.5 134.7" stroke-width="1.3"/>
<path d="M137.0 151.5 L138.5 149.7 L140.3 148.1 L142.0 146.5 L144.0 144.5 L146.3 142.8 L148.3 140.8" stroke-width="1.3"/>
<path d="M365.8 208.3 L367.9 206.4 L370.0 204.5 L372.4 203.3 L375.0 202.5" stroke-width="2.6"/>
<path d="M320.0 325.8 L319.0 328.5 L317.5 331.0 L317.8 333.0 L318.0 335.0 L317.0 338.5" stroke-width="2.6"/>
<path d="M87.5 273.3 L87.1 275.8 L86.7 278.3" stroke-width="1.3"/>
</g>
<g transform="translate(120.8 158.3)"><path d="M0 7.3C-1.2 4.6-4 2.2-4-.4A4 4 0 0 1 4-.4C4 2.2 1.2 4.6 0 7.3Z" fill="#d2404a" stroke="#c22f3b" stroke-width=".5"/><circle cy="-.5" r="1.6" fill="#fff3d6"/></g>
<g transform="translate(128.0 180.8)"><path d="M0 7.3C-1.2 4.6-4 2.2-4-.4A4 4 0 0 1 4-.4C4 2.2 1.2 4.6 0 7.3Z" fill="#d2404a" stroke="#c22f3b" stroke-width=".5"/><circle cy="-.5" r="1.6" fill="#fff3d6"/></g>
<g transform="translate(151.7 189.2)"><path d="M0 7.3C-1.2 4.6-4 2.2-4-.4A4 4 0 0 1 4-.4C4 2.2 1.2 4.6 0 7.3Z" fill="#d2404a" stroke="#c22f3b" stroke-width=".5"/><circle cy="-.5" r="1.6" fill="#fff3d6"/></g>
<g transform="translate(188.0 183.3)"><path d="M0 7.3C-1.2 4.6-4 2.2-4-.4A4 4 0 0 1 4-.4C4 2.2 1.2 4.6 0 7.3Z" fill="#d2404a" stroke="#c22f3b" stroke-width=".5"/><circle cy="-.5" r="1.6" fill="#fff3d6"/></g>
<g transform="translate(105.0 220.8)"><path d="M0 7.3C-1.2 4.6-4 2.2-4-.4A4 4 0 0 1 4-.4C4 2.2 1.2 4.6 0 7.3Z" fill="#d2404a" stroke="#c22f3b" stroke-width=".5"/><circle cy="-.5" r="1.6" fill="#fff3d6"/></g>
<g transform="translate(139.2 221.7)"><path d="M0 7.3C-1.2 4.6-4 2.2-4-.4A4 4 0 0 1 4-.4C4 2.2 1.2 4.6 0 7.3Z" fill="#d2404a" stroke="#c22f3b" stroke-width=".5"/><circle cy="-.5" r="1.6" fill="#fff3d6"/></g>
<g transform="translate(184.2 215.8)"><path d="M0 7.3C-1.2 4.6-4 2.2-4-.4A4 4 0 0 1 4-.4C4 2.2 1.2 4.6 0 7.3Z" fill="#d2404a" stroke="#c22f3b" stroke-width=".5"/><circle cy="-.5" r="1.6" fill="#fff3d6"/></g>
<g transform="translate(200.3 208.5)"><path d="M0 7.3C-1.2 4.6-4 2.2-4-.4A4 4 0 0 1 4-.4C4 2.2 1.2 4.6 0 7.3Z" fill="#d2404a" stroke="#c22f3b" stroke-width=".5"/><circle cy="-.5" r="1.6" fill="#fff3d6"/></g>
<g transform="translate(164.5 232.3)"><path d="M0 7.3C-1.2 4.6-4 2.2-4-.4A4 4 0 0 1 4-.4C4 2.2 1.2 4.6 0 7.3Z" fill="#d2404a" stroke="#c22f3b" stroke-width=".5"/><circle cy="-.5" r="1.6" fill="#fff3d6"/></g>
<g transform="translate(105.0 265.3)"><path d="M0 7.3C-1.2 4.6-4 2.2-4-.4A4 4 0 0 1 4-.4C4 2.2 1.2 4.6 0 7.3Z" fill="#d2404a" stroke="#c22f3b" stroke-width=".5"/><circle cy="-.5" r="1.6" fill="#fff3d6"/></g>
<g transform="translate(137.8 251.3)"><path d="M0 7.3C-1.2 4.6-4 2.2-4-.4A4 4 0 0 1 4-.4C4 2.2 1.2 4.6 0 7.3Z" fill="#d2404a" stroke="#c22f3b" stroke-width=".5"/><circle cy="-.5" r="1.6" fill="#fff3d6"/></g>
<g transform="translate(142.5 282.5)"><path d="M0 7.3C-1.2 4.6-4 2.2-4-.4A4 4 0 0 1 4-.4C4 2.2 1.2 4.6 0 7.3Z" fill="#d2404a" stroke="#c22f3b" stroke-width=".5"/><circle cy="-.5" r="1.6" fill="#fff3d6"/></g>
<g transform="translate(184.2 243.0)"><path d="M0 7.3C-1.2 4.6-4 2.2-4-.4A4 4 0 0 1 4-.4C4 2.2 1.2 4.6 0 7.3Z" fill="#d2404a" stroke="#c22f3b" stroke-width=".5"/><circle cy="-.5" r="1.6" fill="#fff3d6"/></g>
<g transform="translate(176.7 264.2)"><path d="M0 7.3C-1.2 4.6-4 2.2-4-.4A4 4 0 0 1 4-.4C4 2.2 1.2 4.6 0 7.3Z" fill="#d2404a" stroke="#c22f3b" stroke-width=".5"/><circle cy="-.5" r="1.6" fill="#fff3d6"/></g>
<g transform="translate(183.3 283.3)"><path d="M0 7.3C-1.2 4.6-4 2.2-4-.4A4 4 0 0 1 4-.4C4 2.2 1.2 4.6 0 7.3Z" fill="#d2404a" stroke="#c22f3b" stroke-width=".5"/><circle cy="-.5" r="1.6" fill="#fff3d6"/></g>
<g transform="translate(205.8 267.5)"><path d="M0 7.3C-1.2 4.6-4 2.2-4-.4A4 4 0 0 1 4-.4C4 2.2 1.2 4.6 0 7.3Z" fill="#d2404a" stroke="#c22f3b" stroke-width=".5"/><circle cy="-.5" r="1.6" fill="#fff3d6"/></g>
<g transform="translate(296.7 147.0)"><path d="M0 7.3C-1.2 4.6-4 2.2-4-.4A4 4 0 0 1 4-.4C4 2.2 1.2 4.6 0 7.3Z" fill="#d2404a" stroke="#c22f3b" stroke-width=".5"/><circle cy="-.5" r="1.6" fill="#fff3d6"/></g>
<g transform="translate(255.0 169.2)"><path d="M0 7.3C-1.2 4.6-4 2.2-4-.4A4 4 0 0 1 4-.4C4 2.2 1.2 4.6 0 7.3Z" fill="#d2404a" stroke="#c22f3b" stroke-width=".5"/><circle cy="-.5" r="1.6" fill="#fff3d6"/></g>
<g transform="translate(269.7 169.2)"><path d="M0 7.3C-1.2 4.6-4 2.2-4-.4A4 4 0 0 1 4-.4C4 2.2 1.2 4.6 0 7.3Z" fill="#d2404a" stroke="#c22f3b" stroke-width=".5"/><circle cy="-.5" r="1.6" fill="#fff3d6"/></g>
<g transform="translate(287.5 169.2)"><path d="M0 7.3C-1.2 4.6-4 2.2-4-.4A4 4 0 0 1 4-.4C4 2.2 1.2 4.6 0 7.3Z" fill="#d2404a" stroke="#c22f3b" stroke-width=".5"/><circle cy="-.5" r="1.6" fill="#fff3d6"/></g>
<g transform="translate(244.2 184.2)"><path d="M0 7.3C-1.2 4.6-4 2.2-4-.4A4 4 0 0 1 4-.4C4 2.2 1.2 4.6 0 7.3Z" fill="#d2404a" stroke="#c22f3b" stroke-width=".5"/><circle cy="-.5" r="1.6" fill="#fff3d6"/></g>
<g transform="translate(255.3 187.2)"><path d="M0 7.3C-1.2 4.6-4 2.2-4-.4A4 4 0 0 1 4-.4C4 2.2 1.2 4.6 0 7.3Z" fill="#d2404a" stroke="#c22f3b" stroke-width=".5"/><circle cy="-.5" r="1.6" fill="#fff3d6"/></g>
<g transform="translate(225.3 195.0)"><path d="M0 7.3C-1.2 4.6-4 2.2-4-.4A4 4 0 0 1 4-.4C4 2.2 1.2 4.6 0 7.3Z" fill="#d2404a" stroke="#c22f3b" stroke-width=".5"/><circle cy="-.5" r="1.6" fill="#fff3d6"/></g>
<g transform="translate(238.8 200.3)"><path d="M0 7.3C-1.2 4.6-4 2.2-4-.4A4 4 0 0 1 4-.4C4 2.2 1.2 4.6 0 7.3Z" fill="#d2404a" stroke="#c22f3b" stroke-width=".5"/><circle cy="-.5" r="1.6" fill="#fff3d6"/></g>
<g transform="translate(233.3 214.2)"><path d="M0 7.3C-1.2 4.6-4 2.2-4-.4A4 4 0 0 1 4-.4C4 2.2 1.2 4.6 0 7.3Z" fill="#d2404a" stroke="#c22f3b" stroke-width=".5"/><circle cy="-.5" r="1.6" fill="#fff3d6"/></g>
<g transform="translate(282.2 212.2)"><path d="M0 7.3C-1.2 4.6-4 2.2-4-.4A4 4 0 0 1 4-.4C4 2.2 1.2 4.6 0 7.3Z" fill="#d2404a" stroke="#c22f3b" stroke-width=".5"/><circle cy="-.5" r="1.6" fill="#fff3d6"/></g>
<g transform="translate(246.3 228.3)"><path d="M0 7.3C-1.2 4.6-4 2.2-4-.4A4 4 0 0 1 4-.4C4 2.2 1.2 4.6 0 7.3Z" fill="#d2404a" stroke="#c22f3b" stroke-width=".5"/><circle cy="-.5" r="1.6" fill="#fff3d6"/></g>
<g transform="translate(270.0 230.0)"><path d="M0 7.3C-1.2 4.6-4 2.2-4-.4A4 4 0 0 1 4-.4C4 2.2 1.2 4.6 0 7.3Z" fill="#d2404a" stroke="#c22f3b" stroke-width=".5"/><circle cy="-.5" r="1.6" fill="#fff3d6"/></g>
<g transform="translate(221.3 232.8)"><path d="M0 7.3C-1.2 4.6-4 2.2-4-.4A4 4 0 0 1 4-.4C4 2.2 1.2 4.6 0 7.3Z" fill="#d2404a" stroke="#c22f3b" stroke-width=".5"/><circle cy="-.5" r="1.6" fill="#fff3d6"/></g>
<g transform="translate(219.7 260.0)"><path d="M0 7.3C-1.2 4.6-4 2.2-4-.4A4 4 0 0 1 4-.4C4 2.2 1.2 4.6 0 7.3Z" fill="#d2404a" stroke="#c22f3b" stroke-width=".5"/><circle cy="-.5" r="1.6" fill="#fff3d6"/></g>
<g transform="translate(234.7 278.3)"><path d="M0 7.3C-1.2 4.6-4 2.2-4-.4A4 4 0 0 1 4-.4C4 2.2 1.2 4.6 0 7.3Z" fill="#d2404a" stroke="#c22f3b" stroke-width=".5"/><circle cy="-.5" r="1.6" fill="#fff3d6"/></g>
<g transform="translate(287.5 277.8)"><path d="M0 7.3C-1.2 4.6-4 2.2-4-.4A4 4 0 0 1 4-.4C4 2.2 1.2 4.6 0 7.3Z" fill="#d2404a" stroke="#c22f3b" stroke-width=".5"/><circle cy="-.5" r="1.6" fill="#fff3d6"/></g>
<g transform="translate(326.3 209.2)"><path d="M0 7.3C-1.2 4.6-4 2.2-4-.4A4 4 0 0 1 4-.4C4 2.2 1.2 4.6 0 7.3Z" fill="#d2404a" stroke="#c22f3b" stroke-width=".5"/><circle cy="-.5" r="1.6" fill="#fff3d6"/></g>
</svg>
<div style="left:95.7px;top:82.1px;font-size:22.6px;line-height:22.6px;color:#2b5ca3;font-weight:bold;-webkit-text-stroke:1.5px #2b5ca3;letter-spacing:0.25px;transform:scaleX(1.167);transform-origin:0 0;">Desglose por comunas de los 26.491 casos</div>
<div class="hl" style="left:133px;top:341.5px;width:195px"></div>
<div style="left:133px;top:343.5px;width:195px;height:71.5px;background:#ebebeb"></div>
<div class="hl" style="left:133px;top:415px;width:195px"></div>
<div style="left:171.7px;top:353.0px;font-size:9.8px;line-height:9.8px;color:#2b5ca3;font-weight:bold;-webkit-text-stroke:0.7px #2b5ca3;transform:scaleX(1.121);transform-origin:0 0;">Casos con Residencia</div>
<div style="left:178.7px;top:365.0px;font-size:9.8px;line-height:9.8px;color:#2b5ca3;font-weight:bold;-webkit-text-stroke:0.7px #2b5ca3;transform:scaleX(1.160);transform-origin:0 0;">Fuera de la Región</div>
<div style="left:174.9px;top:379.7px;font-size:27.2px;line-height:27.2px;color:#2b5ca3;font-weight:bold;-webkit-text-stroke:1.7px #2b5ca3;transform:scaleX(1.290);transform-origin:0 0;">288</div>
<div style="left:239.4px;top:387.0px;font-size:13.2px;line-height:13.2px;color:#2b5ca3;font-weight:bold;-webkit-text-stroke:0.95px #2b5ca3;transform:scaleX(1.105);transform-origin:0 0;">Casos</div>
<div style="left:186.9px;top:427.4px;font-size:10.4px;line-height:10.4px;color:#2b5ca3;font-weight:bold;-webkit-text-stroke:0.7px #2b5ca3;transform:scaleX(1.101);transform-origin:0 0;">Sin Notificación</div>
<div style="left:173.6px;top:444.3px;font-size:27.2px;line-height:27.2px;color:#2b5ca3;font-weight:bold;-webkit-text-stroke:1.7px #2b5ca3;transform:scaleX(1.249);transform-origin:0 0;">511</div>
<div style="left:240.0px;top:451.6px;font-size:13.2px;line-height:13.2px;color:#2b5ca3;font-weight:bold;-webkit-text-stroke:0.95px #2b5ca3;transform:scaleX(1.125);transform-origin:0 0;">Casos</div>
<div class="hl" style="left:133px;top:481px;width:195px"></div>
<div style="left:133px;top:483px;width:195px;height:72.5px;background:#4b9fe0"></div>
<div class="hl" style="left:133px;top:555.5px;width:195px"></div>
<div style="left:170.4px;top:488.6px;font-size:14px;line-height:14px;color:#fff;font-weight:bold;-webkit-text-stroke:0.25px #fff;transform:scaleX(1.077);transform-origin:0 0;">Ajuste Nacional</div>
<div style="left:170.4px;top:506.0px;font-size:14px;line-height:14px;color:#fff;font-weight:bold;-webkit-text-stroke:0.25px #fff;transform:scaleX(1.080);transform-origin:0 0;">Sistema Epivigila</div>
<div style="left:204.2px;top:521.0px;font-size:32.5px;line-height:32.5px;color:#fff;font-weight:bold;-webkit-text-stroke:0.8px #fff;transform:scaleX(1.230);transform-origin:0 0;">83</div>
<!-- Cachapoal -->
<div style="left:396px;top:115.5px;width:269px;height:29.19999999999999px;background:#e5e5e5"></div>
<div class="vl" style="left:395px;top:115.5px;height:441.1px"></div>
<div class="vl" style="left:664px;top:115.5px;height:441.1px"></div>
<div class="vl" style="left:529px;top:146.7px;height:377.3px"></div>
<div style="left:440.2px;top:122.3px;font-size:14.2px;line-height:14.2px;color:#2b5ca3;font-weight:bold;-webkit-text-stroke:0.9px #2b5ca3;transform:scaleX(1.115);transform-origin:0 0;">Provincia de Cachapoal</div>
<div style="left:404.3px;top:154.9px;font-size:13.5px;line-height:13.5px;color:#2b5ca3;font-weight:bold;-webkit-text-stroke:0.5px #2b5ca3;text-shadow:0.35px 0 0 #2b5ca3,-0.35px 0 0 #2b5ca3;transform:scaleX(1.040);transform-origin:0 0;">Codegua</div>
<div style="left:584.8px;top:154.9px;font-size:13.5px;line-height:13.5px;color:#2b5ca3;font-weight:bold;-webkit-text-stroke:0.5px #2b5ca3;text-shadow:0.35px 0 0 #2b5ca3,-0.35px 0 0 #2b5ca3;transform:scaleX(1.050);transform-origin:0 0;">352</div>
<div style="left:404.3px;top:176.8px;font-size:13.5px;line-height:13.5px;color:#2b5ca3;font-weight:bold;-webkit-text-stroke:0.5px #2b5ca3;text-shadow:0.35px 0 0 #2b5ca3,-0.35px 0 0 #2b5ca3;transform:scaleX(1.040);transform-origin:0 0;">Coinco</div>
<div style="left:584.8px;top:176.8px;font-size:13.5px;line-height:13.5px;color:#2b5ca3;font-weight:bold;-webkit-text-stroke:0.5px #2b5ca3;text-shadow:0.35px 0 0 #2b5ca3,-0.35px 0 0 #2b5ca3;transform:scaleX(1.050);transform-origin:0 0;">226</div>
<div style="left:404.3px;top:198.6px;font-size:13.5px;line-height:13.5px;color:#2b5ca3;font-weight:bold;-webkit-text-stroke:0.5px #2b5ca3;text-shadow:0.35px 0 0 #2b5ca3,-0.35px 0 0 #2b5ca3;transform:scaleX(1.040);transform-origin:0 0;">Coltauco</div>
<div style="left:584.8px;top:198.6px;font-size:13.5px;line-height:13.5px;color:#2b5ca3;font-weight:bold;-webkit-text-stroke:0.5px #2b5ca3;text-shadow:0.35px 0 0 #2b5ca3,-0.35px 0 0 #2b5ca3;transform:scaleX(1.050);transform-origin:0 0;">700</div>
<div style="left:404.3px;top:220.5px;font-size:13.5px;line-height:13.5px;color:#2b5ca3;font-weight:bold;-webkit-text-stroke:0.5px #2b5ca3;text-shadow:0.35px 0 0 #2b5ca3,-0.35px 0 0 #2b5ca3;transform:scaleX(1.040);transform-origin:0 0;">Doñihue</div>
<div style="left:584.8px;top:220.5px;font-size:13.5px;line-height:13.5px;color:#2b5ca3;font-weight:bold;-webkit-text-stroke:0.5px #2b5ca3;text-shadow:0.35px 0 0 #2b5ca3,-0.35px 0 0 #2b5ca3;transform:scaleX(1.050);transform-origin:0 0;">757</div>
<div style="left:404.3px;top:242.4px;font-size:13.5px;line-height:13.5px;color:#2b5ca3;font-weight:bold;-webkit-text-stroke:0.5px #2b5ca3;text-shadow:0.35px 0 0 #2b5ca3,-0.35px 0 0 #2b5ca3;transform:scaleX(1.040);transform-origin:0 0;">Graneros</div>
<div style="left:584.8px;top:242.4px;font-size:13.5px;line-height:13.5px;color:#2b5ca3;font-weight:bold;-webkit-text-stroke:0.5px #2b5ca3;text-shadow:0.35px 0 0 #2b5ca3,-0.35px 0 0 #2b5ca3;transform:scaleX(1.050);transform-origin:0 0;">902</div>
<div style="left:404.3px;top:264.2px;font-size:13.5px;line-height:13.5px;color:#2b5ca3;font-weight:bold;-webkit-text-stroke:0.5px #2b5ca3;text-shadow:0.35px 0 0 #2b5ca3,-0.35px 0 0 #2b5ca3;transform:scaleX(1.040);transform-origin:0 0;">Las Cabras</div>
<div style="left:584.8px;top:264.2px;font-size:13.5px;line-height:13.5px;color:#2b5ca3;font-weight:bold;-webkit-text-stroke:0.5px #2b5ca3;text-shadow:0.35px 0 0 #2b5ca3,-0.35px 0 0 #2b5ca3;transform:scaleX(1.050);transform-origin:0 0;">579</div>
<div style="left:404.3px;top:286.1px;font-size:13.5px;line-height:13.5px;color:#2b5ca3;font-weight:bold;-webkit-text-stroke:0.5px #2b5ca3;text-shadow:0.35px 0 0 #2b5ca3,-0.35px 0 0 #2b5ca3;transform:scaleX(1.040);transform-origin:0 0;">Machalí</div>
<div style="left:580.8px;top:286.1px;font-size:13.5px;line-height:13.5px;color:#2b5ca3;font-weight:bold;-webkit-text-stroke:0.5px #2b5ca3;text-shadow:0.35px 0 0 #2b5ca3,-0.35px 0 0 #2b5ca3;transform:scaleX(1.050);transform-origin:0 0;">1455</div>
<div style="left:404.3px;top:307.9px;font-size:13.5px;line-height:13.5px;color:#2b5ca3;font-weight:bold;-webkit-text-stroke:0.5px #2b5ca3;text-shadow:0.35px 0 0 #2b5ca3,-0.35px 0 0 #2b5ca3;transform:scaleX(1.040);transform-origin:0 0;">Malloa</div>
<div style="left:584.8px;top:307.9px;font-size:13.5px;line-height:13.5px;color:#2b5ca3;font-weight:bold;-webkit-text-stroke:0.5px #2b5ca3;text-shadow:0.35px 0 0 #2b5ca3,-0.35px 0 0 #2b5ca3;transform:scaleX(1.050);transform-origin:0 0;">339</div>
<div style="left:404.3px;top:329.8px;font-size:13.5px;line-height:13.5px;color:#2b5ca3;font-weight:bold;-webkit-text-stroke:0.5px #2b5ca3;text-shadow:0.35px 0 0 #2b5ca3,-0.35px 0 0 #2b5ca3;transform:scaleX(1.040);transform-origin:0 0;">Mostazal</div>
<div style="left:584.8px;top:329.8px;font-size:13.5px;line-height:13.5px;color:#2b5ca3;font-weight:bold;-webkit-text-stroke:0.5px #2b5ca3;text-shadow:0.35px 0 0 #2b5ca3,-0.35px 0 0 #2b5ca3;transform:scaleX(1.050);transform-origin:0 0;">473</div>
<div style="left:404.3px;top:351.7px;font-size:13.5px;line-height:13.5px;color:#2b5ca3;font-weight:bold;-webkit-text-stroke:0.5px #2b5ca3;text-shadow:0.35px 0 0 #2b5ca3,-0.35px 0 0 #2b5ca3;transform:scaleX(1.040);transform-origin:0 0;">Olivar</div>
<div style="left:584.8px;top:351.7px;font-size:13.5px;line-height:13.5px;color:#2b5ca3;font-weight:bold;-webkit-text-stroke:0.5px #2b5ca3;text-shadow:0.35px 0 0 #2b5ca3,-0.35px 0 0 #2b5ca3;transform:scaleX(1.050);transform-origin:0 0;">439</div>
<div style="left:404.3px;top:373.5px;font-size:13.5px;line-height:13.5px;color:#2b5ca3;font-weight:bold;-webkit-text-stroke:0.5px #2b5ca3;text-shadow:0.35px 0 0 #2b5ca3,-0.35px 0 0 #2b5ca3;transform:scaleX(1.040);transform-origin:0 0;">Peumo</div>
<div style="left:584.8px;top:373.5px;font-size:13.5px;line-height:13.5px;color:#2b5ca3;font-weight:bold;-webkit-text-stroke:0.5px #2b5ca3;text-shadow:0.35px 0 0 #2b5ca3,-0.35px 0 0 #2b5ca3;transform:scaleX(1.050);transform-origin:0 0;">453</div>
<div style="left:404.3px;top:395.4px;font-size:13.5px;line-height:13.5px;color:#2b5ca3;font-weight:bold;-webkit-text-stroke:0.5px #2b5ca3;text-shadow:0.35px 0 0 #2b5ca3,-0.35px 0 0 #2b5ca3;transform:scaleX(1.040);transform-origin:0 0;">Pichidegua</div>
<div style="left:584.8px;top:395.4px;font-size:13.5px;line-height:13.5px;color:#2b5ca3;font-weight:bold;-webkit-text-stroke:0.5px #2b5ca3;text-shadow:0.35px 0 0 #2b5ca3,-0.35px 0 0 #2b5ca3;transform:scaleX(1.050);transform-origin:0 0;">593</div>
<div style="left:404.3px;top:417.2px;font-size:13.5px;line-height:13.5px;color:#2b5ca3;font-weight:bold;-webkit-text-stroke:0.5px #2b5ca3;text-shadow:0.35px 0 0 #2b5ca3,-0.35px 0 0 #2b5ca3;transform:scaleX(1.040);transform-origin:0 0;">Quinta De Tilcoco</div>
<div style="left:584.8px;top:417.2px;font-size:13.5px;line-height:13.5px;color:#2b5ca3;font-weight:bold;-webkit-text-stroke:0.5px #2b5ca3;text-shadow:0.35px 0 0 #2b5ca3,-0.35px 0 0 #2b5ca3;transform:scaleX(1.050);transform-origin:0 0;">273</div>
<div style="left:404.3px;top:439.1px;font-size:13.5px;line-height:13.5px;color:#2b5ca3;font-weight:bold;-webkit-text-stroke:0.5px #2b5ca3;text-shadow:0.35px 0 0 #2b5ca3,-0.35px 0 0 #2b5ca3;transform:scaleX(1.040);transform-origin:0 0;">Rancagua</div>
<div style="left:580.8px;top:439.1px;font-size:13.5px;line-height:13.5px;color:#2b5ca3;font-weight:bold;-webkit-text-stroke:0.5px #2b5ca3;text-shadow:0.35px 0 0 #2b5ca3,-0.35px 0 0 #2b5ca3;transform:scaleX(1.050);transform-origin:0 0;">8859</div>
<div style="left:404.3px;top:461.0px;font-size:13.5px;line-height:13.5px;color:#2b5ca3;font-weight:bold;-webkit-text-stroke:0.5px #2b5ca3;text-shadow:0.35px 0 0 #2b5ca3,-0.35px 0 0 #2b5ca3;transform:scaleX(1.040);transform-origin:0 0;">Rengo</div>
<div style="left:580.8px;top:461.0px;font-size:13.5px;line-height:13.5px;color:#2b5ca3;font-weight:bold;-webkit-text-stroke:0.5px #2b5ca3;text-shadow:0.35px 0 0 #2b5ca3,-0.35px 0 0 #2b5ca3;transform:scaleX(1.050);transform-origin:0 0;">1578</div>
<div style="left:404.3px;top:482.8px;font-size:13.5px;line-height:13.5px;color:#2b5ca3;font-weight:bold;-webkit-text-stroke:0.5px #2b5ca3;text-shadow:0.35px 0 0 #2b5ca3,-0.35px 0 0 #2b5ca3;transform:scaleX(1.040);transform-origin:0 0;">Requínoa</div>
<div style="left:584.8px;top:482.8px;font-size:13.5px;line-height:13.5px;color:#2b5ca3;font-weight:bold;-webkit-text-stroke:0.5px #2b5ca3;text-shadow:0.35px 0 0 #2b5ca3,-0.35px 0 0 #2b5ca3;transform:scaleX(1.050);transform-origin:0 0;">681</div>
<div style="left:404.3px;top:504.7px;font-size:13.5px;line-height:13.5px;color:#2b5ca3;font-weight:bold;-webkit-text-stroke:0.5px #2b5ca3;text-shadow:0.35px 0 0 #2b5ca3,-0.35px 0 0 #2b5ca3;transform:scaleX(1.040);transform-origin:0 0;">San Vicente</div>
<div style="left:580.8px;top:504.7px;font-size:13.5px;line-height:13.5px;color:#2b5ca3;font-weight:bold;-webkit-text-stroke:0.5px #2b5ca3;text-shadow:0.35px 0 0 #2b5ca3,-0.35px 0 0 #2b5ca3;transform:scaleX(1.050);transform-origin:0 0;">1615</div>
<div style="left:395px;top:524px;width:271px;height:32.60000000000002px;background:#2b5ca3"></div>
<div style="left:404.1px;top:530.4px;font-size:20.3px;line-height:20.3px;color:#fff;font-weight:bold;-webkit-text-stroke:1.3px #fff;transform:scaleX(1.176);transform-origin:0 0;">Total</div>
<div style="left:556.1px;top:525.3px;font-size:22.3px;line-height:22.3px;color:#fff;font-weight:bold;-webkit-text-stroke:1.4px #fff;transform:scaleX(1.176);transform-origin:0 0;">20.274</div>
<!-- Colchagua -->
<div style="left:396px;top:571.5px;width:269px;height:28.5px;background:#e5e5e5"></div>
<div class="vl" style="left:395px;top:571.5px;height:288.29999999999995px"></div>
<div class="vl" style="left:664px;top:571.5px;height:288.29999999999995px"></div>
<div class="vl" style="left:529px;top:602px;height:224.79999999999995px"></div>
<div style="left:440.5px;top:578.4px;font-size:14.2px;line-height:14.2px;color:#2b5ca3;font-weight:bold;-webkit-text-stroke:0.9px #2b5ca3;transform:scaleX(1.109);transform-origin:0 0;">Provincia de Colchagua</div>
<div style="left:404.3px;top:610.9px;font-size:13.5px;line-height:13.5px;color:#2b5ca3;font-weight:bold;-webkit-text-stroke:0.5px #2b5ca3;text-shadow:0.35px 0 0 #2b5ca3,-0.35px 0 0 #2b5ca3;transform:scaleX(1.040);transform-origin:0 0;">Chépica</div>
<div style="left:585.2px;top:610.9px;font-size:13.5px;line-height:13.5px;color:#2b5ca3;font-weight:bold;-webkit-text-stroke:0.5px #2b5ca3;text-shadow:0.35px 0 0 #2b5ca3,-0.35px 0 0 #2b5ca3;transform:scaleX(1.050);transform-origin:0 0;">359</div>
<div style="left:404.3px;top:632.8px;font-size:13.5px;line-height:13.5px;color:#2b5ca3;font-weight:bold;-webkit-text-stroke:0.5px #2b5ca3;text-shadow:0.35px 0 0 #2b5ca3,-0.35px 0 0 #2b5ca3;transform:scaleX(1.040);transform-origin:0 0;">Chimbarongo</div>
<div style="left:585.2px;top:632.8px;font-size:13.5px;line-height:13.5px;color:#2b5ca3;font-weight:bold;-webkit-text-stroke:0.5px #2b5ca3;text-shadow:0.35px 0 0 #2b5ca3,-0.35px 0 0 #2b5ca3;transform:scaleX(1.050);transform-origin:0 0;">469</div>
<div style="left:404.3px;top:654.7px;font-size:13.5px;line-height:13.5px;color:#2b5ca3;font-weight:bold;-webkit-text-stroke:0.5px #2b5ca3;text-shadow:0.35px 0 0 #2b5ca3,-0.35px 0 0 #2b5ca3;transform:scaleX(1.040);transform-origin:0 0;">Lolol</div>
<div style="left:589.1px;top:654.7px;font-size:13.5px;line-height:13.5px;color:#2b5ca3;font-weight:bold;-webkit-text-stroke:0.5px #2b5ca3;text-shadow:0.35px 0 0 #2b5ca3,-0.35px 0 0 #2b5ca3;transform:scaleX(1.050);transform-origin:0 0;">86</div>
<div style="left:404.3px;top:676.6px;font-size:13.5px;line-height:13.5px;color:#2b5ca3;font-weight:bold;-webkit-text-stroke:0.5px #2b5ca3;text-shadow:0.35px 0 0 #2b5ca3,-0.35px 0 0 #2b5ca3;transform:scaleX(1.040);transform-origin:0 0;">Nancagua</div>
<div style="left:585.2px;top:676.6px;font-size:13.5px;line-height:13.5px;color:#2b5ca3;font-weight:bold;-webkit-text-stroke:0.5px #2b5ca3;text-shadow:0.35px 0 0 #2b5ca3,-0.35px 0 0 #2b5ca3;transform:scaleX(1.050);transform-origin:0 0;">278</div>
<div style="left:404.3px;top:698.4px;font-size:13.5px;line-height:13.5px;color:#2b5ca3;font-weight:bold;-webkit-text-stroke:0.5px #2b5ca3;text-shadow:0.35px 0 0 #2b5ca3,-0.35px 0 0 #2b5ca3;transform:scaleX(1.040);transform-origin:0 0;">Palmilla</div>
<div style="left:585.2px;top:698.4px;font-size:13.5px;line-height:13.5px;color:#2b5ca3;font-weight:bold;-webkit-text-stroke:0.5px #2b5ca3;text-shadow:0.35px 0 0 #2b5ca3,-0.35px 0 0 #2b5ca3;transform:scaleX(1.050);transform-origin:0 0;">233</div>
<div style="left:404.3px;top:720.3px;font-size:13.5px;line-height:13.5px;color:#2b5ca3;font-weight:bold;-webkit-text-stroke:0.5px #2b5ca3;text-shadow:0.35px 0 0 #2b5ca3,-0.35px 0 0 #2b5ca3;transform:scaleX(1.040);transform-origin:0 0;">Peralillo</div>
<div style="left:585.2px;top:720.3px;font-size:13.5px;line-height:13.5px;color:#2b5ca3;font-weight:bold;-webkit-text-stroke:0.5px #2b5ca3;text-shadow:0.35px 0 0 #2b5ca3,-0.35px 0 0 #2b5ca3;transform:scaleX(1.050);transform-origin:0 0;">155</div>
<div style="left:404.3px;top:742.2px;font-size:13.5px;line-height:13.5px;color:#2b5ca3;font-weight:bold;-webkit-text-stroke:0.5px #2b5ca3;text-shadow:0.35px 0 0 #2b5ca3,-0.35px 0 0 #2b5ca3;transform:scaleX(1.040);transform-origin:0 0;">Placilla</div>
<div style="left:585.2px;top:742.2px;font-size:13.5px;line-height:13.5px;color:#2b5ca3;font-weight:bold;-webkit-text-stroke:0.5px #2b5ca3;text-shadow:0.35px 0 0 #2b5ca3,-0.35px 0 0 #2b5ca3;transform:scaleX(1.050);transform-origin:0 0;">147</div>
<div style="left:404.3px;top:764.1px;font-size:13.5px;line-height:13.5px;color:#2b5ca3;font-weight:bold;-webkit-text-stroke:0.5px #2b5ca3;text-shadow:0.35px 0 0 #2b5ca3,-0.35px 0 0 #2b5ca3;transform:scaleX(1.040);transform-origin:0 0;">Pumanque</div>
<div style="left:589.1px;top:764.1px;font-size:13.5px;line-height:13.5px;color:#2b5ca3;font-weight:bold;-webkit-text-stroke:0.5px #2b5ca3;text-shadow:0.35px 0 0 #2b5ca3,-0.35px 0 0 #2b5ca3;transform:scaleX(1.050);transform-origin:0 0;">51</div>
<div style="left:404.3px;top:786.0px;font-size:13.5px;line-height:13.5px;color:#2b5ca3;font-weight:bold;-webkit-text-stroke:0.5px #2b5ca3;text-shadow:0.35px 0 0 #2b5ca3,-0.35px 0 0 #2b5ca3;transform:scaleX(1.040);transform-origin:0 0;">San Fernando</div>
<div style="left:581.2px;top:786.0px;font-size:13.5px;line-height:13.5px;color:#2b5ca3;font-weight:bold;-webkit-text-stroke:0.5px #2b5ca3;text-shadow:0.35px 0 0 #2b5ca3,-0.35px 0 0 #2b5ca3;transform:scaleX(1.050);transform-origin:0 0;">1731</div>
<div style="left:404.3px;top:807.8px;font-size:13.5px;line-height:13.5px;color:#2b5ca3;font-weight:bold;-webkit-text-stroke:0.5px #2b5ca3;text-shadow:0.35px 0 0 #2b5ca3,-0.35px 0 0 #2b5ca3;transform:scaleX(1.040);transform-origin:0 0;">Santa Cruz</div>
<div style="left:581.2px;top:807.8px;font-size:13.5px;line-height:13.5px;color:#2b5ca3;font-weight:bold;-webkit-text-stroke:0.5px #2b5ca3;text-shadow:0.35px 0 0 #2b5ca3,-0.35px 0 0 #2b5ca3;transform:scaleX(1.050);transform-origin:0 0;">1071</div>
<div style="left:395px;top:826.8px;width:271px;height:33.0px;background:#2b5ca3"></div>
<div style="left:404.1px;top:832.6px;font-size:20.3px;line-height:20.3px;color:#fff;font-weight:bold;-webkit-text-stroke:1.3px #fff;transform:scaleX(1.176);transform-origin:0 0;">Total</div>
<div style="left:567.0px;top:827.7px;font-size:22.3px;line-height:22.3px;color:#fff;font-weight:bold;-webkit-text-stroke:1.4px #fff;transform:scaleX(1.202);transform-origin:0 0;">4580</div>
<!-- Cardenal Caro -->
<div style="left:96.5px;top:655.5px;width:269.0px;height:28.5px;background:#e5e5e5"></div>
<div class="vl" style="left:95.5px;top:655.5px;height:202.10000000000002px"></div>
<div class="vl" style="left:364.5px;top:655.5px;height:202.10000000000002px"></div>
<div class="vl" style="left:230px;top:686px;height:138.60000000000002px"></div>
<div style="left:127.8px;top:662.7px;font-size:14.2px;line-height:14.2px;color:#2b5ca3;font-weight:bold;-webkit-text-stroke:0.9px #2b5ca3;transform:scaleX(1.100);transform-origin:0 0;">Provincia de Cardenal Caro</div>
<div style="left:105.0px;top:695.2px;font-size:13.5px;line-height:13.5px;color:#2b5ca3;font-weight:bold;-webkit-text-stroke:0.5px #2b5ca3;text-shadow:0.35px 0 0 #2b5ca3,-0.35px 0 0 #2b5ca3;transform:scaleX(1.040);transform-origin:0 0;">La Estrella</div>
<div style="left:289.9px;top:695.2px;font-size:13.5px;line-height:13.5px;color:#2b5ca3;font-weight:bold;-webkit-text-stroke:0.5px #2b5ca3;text-shadow:0.35px 0 0 #2b5ca3,-0.35px 0 0 #2b5ca3;transform:scaleX(1.050);transform-origin:0 0;">45</div>
<div style="left:105.0px;top:716.9px;font-size:13.5px;line-height:13.5px;color:#2b5ca3;font-weight:bold;-webkit-text-stroke:0.5px #2b5ca3;text-shadow:0.35px 0 0 #2b5ca3,-0.35px 0 0 #2b5ca3;transform:scaleX(1.040);transform-origin:0 0;">Litueche</div>
<div style="left:286.4px;top:716.9px;font-size:13.5px;line-height:13.5px;color:#2b5ca3;font-weight:bold;-webkit-text-stroke:0.5px #2b5ca3;text-shadow:0.35px 0 0 #2b5ca3,-0.35px 0 0 #2b5ca3;transform:scaleX(1.050);transform-origin:0 0;">117</div>
<div style="left:105.0px;top:738.5px;font-size:13.5px;line-height:13.5px;color:#2b5ca3;font-weight:bold;-webkit-text-stroke:0.5px #2b5ca3;text-shadow:0.35px 0 0 #2b5ca3,-0.35px 0 0 #2b5ca3;transform:scaleX(1.040);transform-origin:0 0;">Marchigüe</div>
<div style="left:286.0px;top:738.5px;font-size:13.5px;line-height:13.5px;color:#2b5ca3;font-weight:bold;-webkit-text-stroke:0.5px #2b5ca3;text-shadow:0.35px 0 0 #2b5ca3,-0.35px 0 0 #2b5ca3;transform:scaleX(1.050);transform-origin:0 0;">161</div>
<div style="left:105.0px;top:760.2px;font-size:13.5px;line-height:13.5px;color:#2b5ca3;font-weight:bold;-webkit-text-stroke:0.5px #2b5ca3;text-shadow:0.35px 0 0 #2b5ca3,-0.35px 0 0 #2b5ca3;transform:scaleX(1.040);transform-origin:0 0;">Navidad</div>
<div style="left:289.9px;top:760.2px;font-size:13.5px;line-height:13.5px;color:#2b5ca3;font-weight:bold;-webkit-text-stroke:0.5px #2b5ca3;text-shadow:0.35px 0 0 #2b5ca3,-0.35px 0 0 #2b5ca3;transform:scaleX(1.050);transform-origin:0 0;">80</div>
<div style="left:105.0px;top:781.8px;font-size:13.5px;line-height:13.5px;color:#2b5ca3;font-weight:bold;-webkit-text-stroke:0.5px #2b5ca3;text-shadow:0.35px 0 0 #2b5ca3,-0.35px 0 0 #2b5ca3;transform:scaleX(1.040);transform-origin:0 0;">Paredones</div>
<div style="left:286.4px;top:781.8px;font-size:13.5px;line-height:13.5px;color:#2b5ca3;font-weight:bold;-webkit-text-stroke:0.5px #2b5ca3;text-shadow:0.35px 0 0 #2b5ca3,-0.35px 0 0 #2b5ca3;transform:scaleX(1.050);transform-origin:0 0;">115</div>
<div style="left:105.0px;top:803.5px;font-size:13.5px;line-height:13.5px;color:#2b5ca3;font-weight:bold;-webkit-text-stroke:0.5px #2b5ca3;text-shadow:0.35px 0 0 #2b5ca3,-0.35px 0 0 #2b5ca3;transform:scaleX(1.040);transform-origin:0 0;">Pichilemu</div>
<div style="left:286.0px;top:803.5px;font-size:13.5px;line-height:13.5px;color:#2b5ca3;font-weight:bold;-webkit-text-stroke:0.5px #2b5ca3;text-shadow:0.35px 0 0 #2b5ca3,-0.35px 0 0 #2b5ca3;transform:scaleX(1.050);transform-origin:0 0;">237</div>
<div style="left:95.5px;top:824.6px;width:271.0px;height:33.0px;background:#2b5ca3"></div>
<div style="left:104.8px;top:829.2px;font-size:20.3px;line-height:20.3px;color:#fff;font-weight:bold;-webkit-text-stroke:1.3px #fff;transform:scaleX(1.176);transform-origin:0 0;">Total</div>
<div style="left:276.3px;top:823.6px;font-size:22.3px;line-height:22.3px;color:#fff;font-weight:bold;-webkit-text-stroke:1.4px #fff;transform:scaleX(1.165);transform-origin:0 0;">755</div>
<!-- footer -->
<div style="left:92.3px;top:910.0px;font-size:16.3px;line-height:16.3px;color:#1f3763;-webkit-text-stroke:0.4px #1f3763;transform:scaleX(1.224);transform-origin:0 0;">Plan</div>
<div style="left:138.0px;top:909.8px;font-size:16.3px;line-height:16.3px;color:#1f3763;font-weight:bold;-webkit-text-stroke:0.9px #1f3763;transform:scaleX(1.160);transform-origin:0 0;">Coronavirus</div>
<div style="left:445.3px;top:914.4px;font-size:8.3px;line-height:8.3px;color:#3c3c3c;-webkit-text-stroke:0.35px #3c3c3c;transform:scaleX(1.127);transform-origin:0 0;">Fuente: SEREMI de Salud de la Región de O'Higgins</div>
</body></html>
